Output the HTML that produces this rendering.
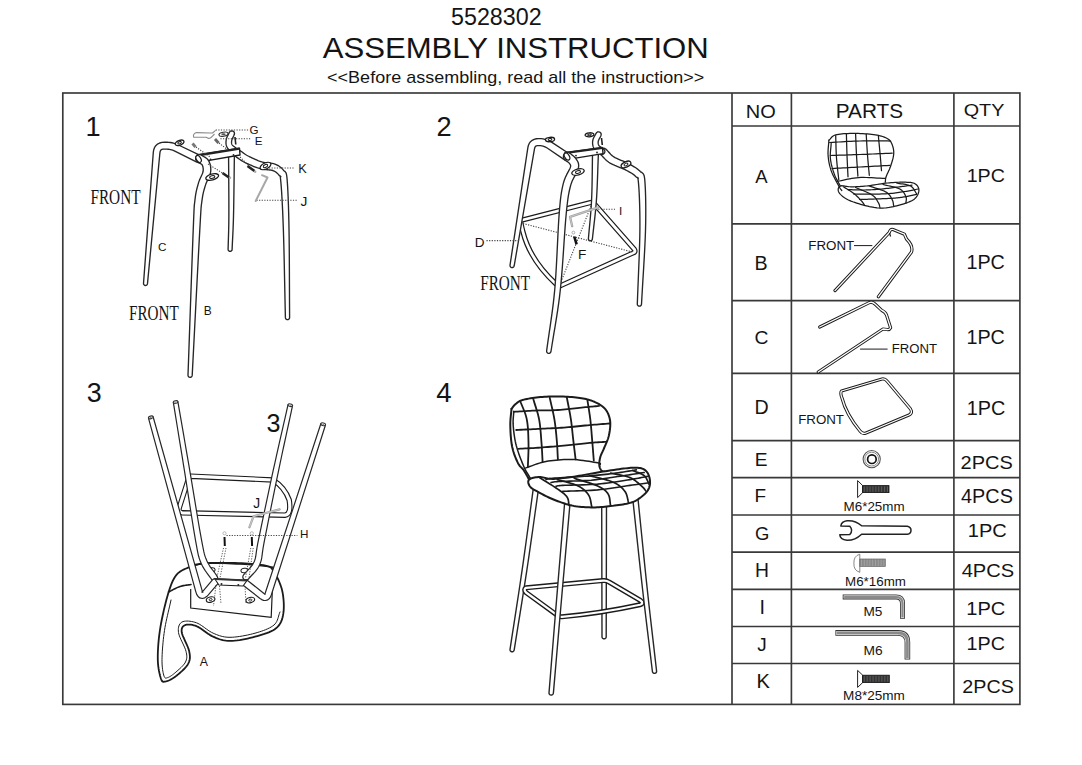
<!DOCTYPE html>
<html><head><meta charset="utf-8">
<style>
html,body{margin:0;padding:0;background:#fff;}
body{width:1082px;height:765px;overflow:hidden;position:relative;}
svg{position:absolute;left:0;top:0;}
</style></head><body>
<svg width="1082" height="765" viewBox="0 0 1082 765">
<g stroke="#393939" stroke-width="1.65" fill="none">
<rect x="62.8" y="93" width="957.1" height="611.4"/>
<line x1="732" y1="93" x2="732" y2="704.4"/>
<line x1="791.4" y1="93" x2="791.4" y2="704.4"/>
<line x1="953.9" y1="93" x2="953.9" y2="704.4"/>
<line x1="732" y1="126.0" x2="1020" y2="126.0"/>
<line x1="732" y1="223.8" x2="1020" y2="223.8"/>
<line x1="732" y1="300.6" x2="1020" y2="300.6"/>
<line x1="732" y1="373.4" x2="1020" y2="373.4"/>
<line x1="732" y1="440.6" x2="1020" y2="440.6"/>
<line x1="732" y1="477.6" x2="1020" y2="477.6"/>
<line x1="732" y1="515.0" x2="1020" y2="515.0"/>
<line x1="732" y1="552.1" x2="1020" y2="552.1"/>
<line x1="732" y1="589.3" x2="1020" y2="589.3"/>
<line x1="732" y1="626.5" x2="1020" y2="626.5"/>
<line x1="732" y1="663.5" x2="1020" y2="663.5"/>
</g>
<g fill="none" stroke="#1b1b1b" stroke-width="1.25" stroke-linecap="round" stroke-linejoin="round">
<path d="M828.9,140.2 L829.53,139.65 L830.08,139.08 L830.58,138.49 L831.07,137.9 L831.58,137.31 L832.15,136.75 L832.81,136.21 L833.6,135.72 L834.55,135.28 L835.7,134.9 L837.05,134.58 L838.57,134.31 L840.25,134.08 L842.04,133.88 L843.94,133.72 L845.9,133.6 L847.92,133.51 L849.96,133.45 L851.99,133.41 L854,133.4 L856.06,133.42 L858.23,133.47 L860.48,133.56 L862.78,133.67 L865.08,133.82 L867.35,133.99 L869.56,134.19 L871.66,134.4 L873.62,134.64 L875.4,134.9 L877.03,135.18 L878.55,135.48 L879.98,135.8 L881.31,136.14 L882.55,136.51 L883.71,136.9 L884.79,137.32 L885.79,137.76 L886.73,138.22 L887.6,138.7 L888.38,139.2 L889.06,139.72 L889.64,140.26 L890.14,140.83 L890.57,141.41 L890.95,142.03 L891.29,142.67 L891.6,143.34 L891.9,144.05 L892.2,144.8 L892.5,145.58 L892.77,146.39 L893.02,147.24 L893.24,148.11 L893.43,149.02 L893.58,149.96 L893.69,150.92 L893.74,151.92 L893.75,152.94 L893.7,154 L893.58,155.11 L893.4,156.27 L893.15,157.49 L892.86,158.74 L892.53,160.01 L892.16,161.29 L891.78,162.56 L891.38,163.81 L890.99,165.03 L890.6,166.2 L890.19,167.35 L889.73,168.51 L889.24,169.66 L888.72,170.8 L888.21,171.92 L887.7,173.01 L887.22,174.05 L886.79,175.04 L886.41,175.96 L886.1,176.8 L885.87,177.55 L885.7,178.21 L885.59,178.8 L885.51,179.33 L885.47,179.83 L885.44,180.29 L885.42,180.74 L885.4,181.2 L885.36,181.68 L885.3,182.2"/>
<path d="M828.9,140.2 L828.8,141.73 L828.68,143.26 L828.54,144.79 L828.39,146.32 L828.26,147.86 L828.14,149.39 L828.05,150.92 L828.01,152.45 L828.02,153.97 L828.1,155.5 L828.23,157.02 L828.4,158.54 L828.6,160.06 L828.84,161.58 L829.13,163.1 L829.45,164.62 L829.82,166.14 L830.23,167.66 L830.69,169.18 L831.2,170.7 L831.8,172.27 L832.51,173.92 L833.29,175.62 L834.14,177.33 L835.01,179.01 L835.88,180.65 L836.72,182.19 L837.5,183.62 L838.21,184.9 L838.8,186 L839.29,186.89 L839.69,187.6 L840.04,188.17 L840.33,188.61 L840.59,188.97 L840.82,189.27 L841.04,189.56 L841.27,189.85 L841.52,190.19 L841.8,190.6"/>
<path d="M831.2,143.3 L831.1,144.82 L830.97,146.34 L830.82,147.86 L830.66,149.38 L830.51,150.89 L830.39,152.41 L830.3,153.93 L830.27,155.45 L830.29,156.98 L830.4,158.5 L830.58,160.04 L830.83,161.6 L831.13,163.18 L831.48,164.76 L831.87,166.34 L832.29,167.9 L832.75,169.43 L833.22,170.94 L833.71,172.4 L834.2,173.8 L834.72,175.15 L835.27,176.44 L835.86,177.69 L836.47,178.9 L837.11,180.09 L837.75,181.27 L838.4,182.44 L839.04,183.61 L839.68,184.79 L840.3,186"/>
<path d="M829.6,142.5 L832.64,142.34 L835.68,142.18 L838.71,142 L841.75,141.83 L844.79,141.66 L847.83,141.49 L850.87,141.34 L853.91,141.2 L856.95,141.09 L860,141 L863.05,140.94 L866.11,140.9 L869.17,140.89 L872.23,140.89 L875.29,140.91 L878.35,140.93 L881.41,140.95 L884.48,140.98 L887.54,140.99 L890.6,141"/>
<path d="M830.4,155.5 L833.35,155.4 L836.28,155.3 L839.2,155.21 L842.12,155.11 L845.04,155.02 L847.97,154.92 L850.93,154.82 L853.91,154.72 L856.93,154.61 L860,154.5 L863.11,154.38 L866.27,154.26 L869.47,154.13 L872.69,154 L875.94,153.87 L879.2,153.73 L882.46,153.6 L885.72,153.46 L888.97,153.33 L892.2,153.2"/>
<path d="M832,168.5 L834.79,168.35 L837.57,168.2 L840.34,168.05 L843.11,167.9 L845.88,167.76 L848.66,167.61 L851.46,167.46 L854.28,167.31 L857.12,167.15 L860,167 L862.91,166.84 L865.86,166.69 L868.83,166.53 L871.82,166.37 L874.83,166.21 L877.85,166.04 L880.87,165.88 L883.89,165.72 L886.9,165.56 L889.9,165.4"/>
<path d="M835.7,135.7 L835.77,137.93 L835.84,140.17 L835.89,142.4 L835.95,144.64 L836.01,146.87 L836.07,149.11 L836.15,151.34 L836.24,153.57 L836.36,155.79 L836.5,158 L836.67,160.21 L836.86,162.41 L837.08,164.6 L837.31,166.79 L837.56,168.98 L837.81,171.16 L838.06,173.34 L838.32,175.53 L838.56,177.71 L838.8,179.9"/>
<path d="M846.4,134.1 L846.46,136.19 L846.51,138.27 L846.57,140.34 L846.62,142.42 L846.68,144.49 L846.73,146.58 L846.79,148.66 L846.85,150.76 L846.92,152.87 L847,155 L847.08,157.14 L847.17,159.3 L847.27,161.47 L847.37,163.66 L847.48,165.84 L847.58,168.04 L847.69,170.23 L847.79,172.43 L847.9,174.62 L848,176.8"/>
<path d="M855.6,133.8 L855.69,135.92 L855.77,138.04 L855.85,140.16 L855.94,142.28 L856.02,144.41 L856.1,146.53 L856.19,148.65 L856.29,150.77 L856.39,152.88 L856.5,155 L856.62,157.11 L856.75,159.23 L856.88,161.34 L857.02,163.45 L857.17,165.56 L857.32,167.66 L857.46,169.77 L857.61,171.88 L857.76,173.99 L857.9,176.1"/>
<path d="M866.2,134.1 L866.33,136.19 L866.45,138.29 L866.57,140.39 L866.7,142.49 L866.82,144.59 L866.94,146.68 L867.07,148.77 L867.21,150.86 L867.35,152.93 L867.5,155 L867.66,157.05 L867.83,159.1 L868,161.13 L868.18,163.16 L868.37,165.19 L868.56,167.21 L868.74,169.23 L868.93,171.25 L869.12,173.27 L869.3,175.3"/>
<path d="M878.4,136.4 L878.56,138.06 L878.72,139.7 L878.88,141.35 L879.04,142.99 L879.21,144.63 L879.37,146.28 L879.53,147.94 L879.69,149.61 L879.84,151.3 L880,153 L880.15,154.73 L880.31,156.47 L880.46,158.23 L880.61,160 L880.76,161.78 L880.9,163.57 L881.05,165.36 L881.2,167.14 L881.35,168.93 L881.5,170.7"/>
<path d="M837.3,181.4 L839.41,181 L841.47,180.57 L843.52,180.12 L845.56,179.66 L847.61,179.21 L849.69,178.79 L851.81,178.4 L853.99,178.07 L856.25,177.79 L858.6,177.6 L861.05,177.49 L863.59,177.47 L866.21,177.5 L868.89,177.59 L871.61,177.71 L874.36,177.86 L877.12,178.02 L879.87,178.17 L882.61,178.3 L885.3,178.4"/>
<path d="M840.3,186 L839.73,186.32 L839.24,186.75 L838.84,187.28 L838.53,187.87 L838.31,188.52 L838.2,189.22 L838.18,189.94 L838.27,190.67 L838.48,191.4 L838.8,192.1 L839.24,192.81 L839.79,193.55 L840.46,194.32 L841.24,195.1 L842.11,195.9 L843.09,196.7 L844.16,197.48 L845.32,198.25 L846.57,198.99 L847.9,199.7 L849.37,200.39 L851.02,201.08 L852.81,201.76 L854.7,202.43 L856.66,203.08 L858.65,203.71 L860.64,204.3 L862.58,204.85 L864.45,205.35 L866.2,205.8 L867.85,206.2 L869.45,206.58 L871.01,206.91 L872.54,207.21 L874.04,207.48 L875.53,207.69 L877.01,207.87 L878.49,208 L879.99,208.07 L881.5,208.1 L883.02,208.07 L884.52,208 L886.02,207.87 L887.51,207.69 L889.01,207.47 L890.51,207.21 L892.03,206.91 L893.56,206.58 L895.12,206.2 L896.7,205.8 L898.37,205.36 L900.14,204.87 L901.98,204.34 L903.85,203.78 L905.71,203.18 L907.52,202.54 L909.25,201.87 L910.84,201.17 L912.27,200.45 L913.5,199.7 L914.54,198.9 L915.46,198.04 L916.25,197.12 L916.93,196.17 L917.49,195.2 L917.96,194.23 L918.32,193.26 L918.6,192.33 L918.79,191.43 L918.9,190.6 L918.92,189.8 L918.82,188.99 L918.62,188.2 L918.33,187.42 L917.95,186.68 L917.49,185.97 L916.96,185.3 L916.36,184.7 L915.7,184.16 L915,183.7 L914.24,183.32 L913.41,183.02 L912.51,182.78 L911.54,182.6 L910.51,182.47 L909.41,182.38 L908.25,182.31 L907.02,182.27 L905.74,182.23 L904.4,182.2 L902.99,182.18 L901.51,182.18 L899.96,182.2 L898.35,182.25 L896.67,182.32 L894.95,182.41 L893.17,182.53 L891.35,182.66 L889.49,182.82 L887.6,183 L885.62,183.22 L883.52,183.49 L881.32,183.81 L879.07,184.15 L876.8,184.5 L874.53,184.85 L872.31,185.19 L870.16,185.51 L868.11,185.78 L866.2,186 L864.41,186.18 L862.69,186.33 L861.04,186.45 L859.46,186.56 L857.93,186.64 L856.46,186.7 L855.03,186.75 L853.65,186.78 L852.31,186.79 L851,186.8 L849.71,186.75 L848.42,186.63 L847.17,186.46 L845.95,186.26 L844.79,186.07 L843.7,185.9 L842.69,185.78 L841.78,185.74 L840.98,185.81Z"/>
<path d="M843.4,186.8 L844.47,187.48 L845.57,188.15 L846.67,188.81 L847.78,189.48 L848.88,190.15 L849.97,190.82 L851.03,191.5 L852.07,192.19 L853.06,192.89 L854,193.6 L854.91,194.34 L855.8,195.12 L856.67,195.93 L857.51,196.74 L858.33,197.56 L859.1,198.36 L859.83,199.14 L860.51,199.88 L861.13,200.57 L861.7,201.2 L862.19,201.76 L862.6,202.27 L862.95,202.73 L863.24,203.16 L863.49,203.56 L863.73,203.94 L863.95,204.31 L864.18,204.69 L864.42,205.08 L864.7,205.5"/>
<path d="M855.6,187.5 L857.32,188.26 L859.11,189.02 L860.94,189.78 L862.79,190.54 L864.61,191.29 L866.38,192.05 L868.07,192.81 L869.64,193.57 L871.06,194.34 L872.3,195.1 L873.36,195.88 L874.27,196.68 L875.05,197.49 L875.72,198.31 L876.29,199.13 L876.79,199.92 L877.23,200.7 L877.64,201.44 L878.02,202.15 L878.4,202.8 L878.74,203.4 L879.01,203.95 L879.21,204.45 L879.36,204.93 L879.48,205.38 L879.58,205.82 L879.66,206.25 L879.75,206.69 L879.86,207.13 L880,207.6"/>
<path d="M869.3,186 L871.03,186.6 L872.83,187.2 L874.68,187.78 L876.53,188.37 L878.37,188.96 L880.15,189.55 L881.85,190.16 L883.42,190.78 L884.85,191.43 L886.1,192.1 L887.16,192.81 L888.08,193.54 L888.86,194.31 L889.53,195.09 L890.11,195.89 L890.6,196.68 L891.05,197.47 L891.45,198.24 L891.82,198.99 L892.2,199.7 L892.54,200.38 L892.79,201.04 L892.99,201.69 L893.13,202.31 L893.24,202.93 L893.32,203.54 L893.39,204.15 L893.47,204.76 L893.57,205.38 L893.7,206"/>
<path d="M883,184.5 L884.73,184.94 L886.53,185.35 L888.38,185.75 L890.23,186.15 L892.07,186.55 L893.85,186.97 L895.55,187.41 L897.12,187.9 L898.55,188.42 L899.8,189 L900.87,189.65 L901.8,190.35 L902.61,191.11 L903.3,191.91 L903.9,192.72 L904.41,193.55 L904.86,194.38 L905.24,195.19 L905.59,195.96 L905.9,196.7 L906.15,197.4 L906.29,198.08 L906.35,198.74 L906.34,199.39 L906.28,200.02 L906.19,200.66 L906.09,201.29 L906,201.92 L905.93,202.56 L905.9,203.2"/>
<path d="M896.7,183 L898.11,183.28 L899.58,183.53 L901.08,183.76 L902.59,183.98 L904.08,184.21 L905.53,184.47 L906.93,184.76 L908.23,185.11 L909.43,185.51 L910.5,186 L911.42,186.57 L912.21,187.23 L912.9,187.94 L913.49,188.71 L914.03,189.51 L914.53,190.34 L915.01,191.18 L915.5,192.01 L916.02,192.82 L916.6,193.6"/>
<path d="M848,189.6 L849.7,189.65 L851.41,189.7 L853.12,189.76 L854.82,189.83 L856.53,189.89 L858.24,189.94 L859.94,189.98 L861.63,190.01 L863.32,190.02 L865,190 L866.67,189.96 L868.33,189.91 L869.99,189.83 L871.64,189.75 L873.28,189.65 L874.92,189.54 L876.57,189.42 L878.21,189.29 L879.85,189.15 L881.5,189 L883.16,188.84 L884.84,188.66 L886.53,188.47 L888.22,188.26 L889.91,188.05 L891.58,187.83 L893.23,187.62 L894.86,187.4 L896.45,187.2 L898,187 L899.5,186.81 L900.96,186.63 L902.38,186.45 L903.78,186.27 L905.16,186.09 L906.52,185.91 L907.88,185.73 L909.24,185.56 L910.61,185.38 L912,185.2"/>
<path d="M853.5,194 L855.14,194.02 L856.76,194.05 L858.37,194.09 L859.98,194.12 L861.59,194.15 L863.21,194.18 L864.86,194.2 L866.53,194.21 L868.24,194.21 L870,194.2 L871.82,194.18 L873.7,194.16 L875.64,194.13 L877.61,194.09 L879.59,194.04 L881.57,193.99 L883.52,193.92 L885.44,193.83 L887.31,193.72 L889.1,193.6 L890.83,193.45 L892.53,193.28 L894.19,193.09 L895.82,192.89 L897.42,192.67 L899,192.44 L900.54,192.21 L902.05,191.97 L903.54,191.73 L905,191.5 L906.42,191.27 L907.8,191.03 L909.14,190.78 L910.44,190.53 L911.72,190.28 L912.99,190.02 L914.26,189.76 L915.52,189.51 L916.8,189.25 L918.1,189"/>
<path d="M859.5,199.5 L861.04,199.45 L862.55,199.4 L864.05,199.36 L865.55,199.31 L867.05,199.27 L868.57,199.22 L870.11,199.17 L871.7,199.12 L873.32,199.06 L875,199 L876.77,198.93 L878.65,198.87 L880.61,198.8 L882.6,198.73 L884.61,198.66 L886.6,198.58 L888.53,198.49 L890.38,198.4 L892.12,198.31 L893.7,198.2 L895.13,198.09 L896.43,197.97 L897.62,197.86 L898.74,197.73 L899.79,197.6 L900.81,197.46 L901.82,197.31 L902.84,197.15 L903.89,196.98 L905,196.8 L906.15,196.6 L907.3,196.38 L908.46,196.15 L909.62,195.91 L910.78,195.66 L911.95,195.41 L913.11,195.15 L914.28,194.9 L915.44,194.64 L916.6,194.4"/>
</g>
<path d="M835,290.6 L889.1,232.7 Q890.6,228.5 893,229.5 L904.4,234.2 L906.5,239 Q913.5,246 911.5,252 L878.4,296.7" fill="none" stroke="#1b1b1b" stroke-width="3.2" stroke-linecap="round" stroke-linejoin="round"/>
<path d="M835,290.6 L889.1,232.7 Q890.6,228.5 893,229.5 L904.4,234.2 L906.5,239 Q913.5,246 911.5,252 L878.4,296.7" fill="none" stroke="#fff" stroke-width="1.3" stroke-linecap="round" stroke-linejoin="round"/>
<path d="M854,245.6 L872.3,245.6" stroke="#1b1b1b" stroke-width="1"/>
<path d="M889.5,233 L890.6,236.5" stroke="#1b1b1b" stroke-width="1.2"/>
<path d="M819.7,327 L869.3,302.6 Q872.5,301.5 875,304 L881.5,310.2 Q885.5,312 886.5,315 L890.6,327.7 Q889.5,330 887,329.5 L883,329 L818.2,372" fill="none" stroke="#1b1b1b" stroke-width="3.2" stroke-linecap="round" stroke-linejoin="round"/>
<path d="M819.7,327 L869.3,302.6 Q872.5,301.5 875,304 L881.5,310.2 Q885.5,312 886.5,315 L890.6,327.7 Q889.5,330 887,329.5 L883,329 L818.2,372" fill="none" stroke="#fff" stroke-width="1.3" stroke-linecap="round" stroke-linejoin="round"/>
<path d="M860.1,349.1 L887.6,349.1" stroke="#1b1b1b" stroke-width="1"/>
<path d="M841.5,391 L882,379 Q885,378.5 887,381 L910.5,409 Q913,413 909,415 L866,433 Q862.5,434.5 860,431 Q846,414 842,398 Q840,393 841.5,391 Z" fill="none" stroke="#1b1b1b" stroke-width="3.2" stroke-linejoin="round"/>
<path d="M841.5,391 L882,379 Q885,378.5 887,381 L910.5,409 Q913,413 909,415 L866,433 Q862.5,434.5 860,431 Q846,414 842,398 Q840,393 841.5,391 Z" fill="none" stroke="#fff" stroke-width="1.3" stroke-linejoin="round"/>
<circle cx="871.7" cy="459.1" r="8.6" fill="none" stroke="#555" stroke-width="1.1"/>
<circle cx="871.7" cy="459.1" r="6.9" fill="none" stroke="#8a8a8a" stroke-width="1.0"/>
<circle cx="871.9" cy="459.2" r="4.3" fill="none" stroke="#111" stroke-width="1.7"/>
<path d="M857.6,480.6 L862.7,485.6 L862.7,492.6 L857.6,497.6 Z" fill="#fff" stroke="#222" stroke-width="1"/><rect x="862.7" y="485.6" width="26.299999999999955" height="7.0" fill="#333" stroke="#111" stroke-width="0.8"/><line x1="864.2" y1="486.40000000000003" x2="864.2" y2="491.8" stroke="#888" stroke-width="0.5"/><line x1="867.11" y1="486.40000000000003" x2="867.11" y2="491.8" stroke="#888" stroke-width="0.5"/><line x1="870.03" y1="486.40000000000003" x2="870.03" y2="491.8" stroke="#888" stroke-width="0.5"/><line x1="872.94" y1="486.40000000000003" x2="872.94" y2="491.8" stroke="#888" stroke-width="0.5"/><line x1="875.85" y1="486.40000000000003" x2="875.85" y2="491.8" stroke="#888" stroke-width="0.5"/><line x1="878.76" y1="486.40000000000003" x2="878.76" y2="491.8" stroke="#888" stroke-width="0.5"/><line x1="881.67" y1="486.40000000000003" x2="881.67" y2="491.8" stroke="#888" stroke-width="0.5"/><line x1="884.59" y1="486.40000000000003" x2="884.59" y2="491.8" stroke="#888" stroke-width="0.5"/><line x1="887.5" y1="486.40000000000003" x2="887.5" y2="491.8" stroke="#888" stroke-width="0.5"/>
<path d="M857.6,670.4 L862.7,675.1999999999999 L862.7,682.6 L857.6,687.4 Z" fill="#fff" stroke="#222" stroke-width="1"/><rect x="862.7" y="675.1999999999999" width="26.59999999999991" height="7.4" fill="#333" stroke="#111" stroke-width="0.8"/><line x1="864.2" y1="675.9999999999999" x2="864.2" y2="681.8000000000001" stroke="#888" stroke-width="0.5"/><line x1="867.15" y1="675.9999999999999" x2="867.15" y2="681.8000000000001" stroke="#888" stroke-width="0.5"/><line x1="870.1" y1="675.9999999999999" x2="870.1" y2="681.8000000000001" stroke="#888" stroke-width="0.5"/><line x1="873.05" y1="675.9999999999999" x2="873.05" y2="681.8000000000001" stroke="#888" stroke-width="0.5"/><line x1="876" y1="675.9999999999999" x2="876" y2="681.8000000000001" stroke="#888" stroke-width="0.5"/><line x1="878.95" y1="675.9999999999999" x2="878.95" y2="681.8000000000001" stroke="#888" stroke-width="0.5"/><line x1="881.9" y1="675.9999999999999" x2="881.9" y2="681.8000000000001" stroke="#888" stroke-width="0.5"/><line x1="884.85" y1="675.9999999999999" x2="884.85" y2="681.8000000000001" stroke="#888" stroke-width="0.5"/><line x1="887.8" y1="675.9999999999999" x2="887.8" y2="681.8000000000001" stroke="#888" stroke-width="0.5"/>
<path d="M839.8,534.8 L849.8,534.6 Q853.5,530.4 849.8,526.2 L840.8,526 Q841.5,521.5 847,520.8 Q855,520 861.6,525.8 L907.4,526.2 Q911,527 911,530.2 Q911,533.8 907.4,534.2 L861.6,534.2 Q855,540.5 847,540.3 Q840,539.5 839.8,534.8 Z" fill="#fff" stroke="#222" stroke-width="1.5" stroke-linejoin="round"/>
<path d="M859.8,554.2 Q853.5,556 853.9,563.2 Q853.5,570.5 859.8,572.3 Z" fill="#fff" stroke="#777" stroke-width="0.9"/>
<rect x="859.8" y="559" width="25.5" height="7.4" fill="#8a8a8a" stroke="#666" stroke-width="0.7"/>
<line x1="861.5" y1="559.5" x2="861.5" y2="566" stroke="#bbb" stroke-width="0.5"/>
<line x1="864.3" y1="559.5" x2="864.3" y2="566" stroke="#bbb" stroke-width="0.5"/>
<line x1="867.1" y1="559.5" x2="867.1" y2="566" stroke="#bbb" stroke-width="0.5"/>
<line x1="869.9" y1="559.5" x2="869.9" y2="566" stroke="#bbb" stroke-width="0.5"/>
<line x1="872.7" y1="559.5" x2="872.7" y2="566" stroke="#bbb" stroke-width="0.5"/>
<line x1="875.5" y1="559.5" x2="875.5" y2="566" stroke="#bbb" stroke-width="0.5"/>
<line x1="878.3" y1="559.5" x2="878.3" y2="566" stroke="#bbb" stroke-width="0.5"/>
<line x1="881.1" y1="559.5" x2="881.1" y2="566" stroke="#bbb" stroke-width="0.5"/>
<line x1="883.9" y1="559.5" x2="883.9" y2="566" stroke="#bbb" stroke-width="0.5"/>
<path d="M845.2,596.9 L896.0,596.9 Q902.5,596.9 902.5,603.4 L902.5,616.2" fill="none" stroke="#333" stroke-width="5.0" stroke-linecap="square"/><path d="M845.2,596.9 L896.0,596.9 Q902.5,596.9 902.5,603.4 L902.5,616.2" fill="none" stroke="#d8d8d8" stroke-width="3.4" stroke-linecap="square"/><path d="M845.2,596.9 L896.0,596.9 Q902.5,596.9 902.5,603.4 L902.5,616.2" fill="none" stroke="#8a8a8a" stroke-width="2.0" stroke-linecap="square"/>
<path d="M838.2,632.9 L897.9,632.9 Q907.4,632.9 907.4,642.4 L907.4,656.8" fill="none" stroke="#333" stroke-width="5.6" stroke-linecap="square"/><path d="M838.2,632.9 L897.9,632.9 Q907.4,632.9 907.4,642.4 L907.4,656.8" fill="none" stroke="#d8d8d8" stroke-width="3.9999999999999996" stroke-linecap="square"/><path d="M838.2,632.9 L897.9,632.9 Q907.4,632.9 907.4,642.4 L907.4,656.8" fill="none" stroke="#8a8a8a" stroke-width="2.5999999999999996" stroke-linecap="square"/>
<path d="M228.55,149.99 L228.59,156.63 L228.63,163.48 L228.68,170.46 L228.73,177.46 L228.78,184.4 L228.82,191.19 L228.86,197.74 L228.88,203.94 L228.88,209.72 L228.87,214.97 L228.84,219.64 L228.79,223.78 L228.72,227.5 L228.64,230.89 L228.56,234.03 L228.46,237.02 L228.37,239.96 L228.27,242.93 L228.18,246.02 L228.1,249.33 L228.23,250.1 L228.64,250.76 L229.27,251.22 L230.03,251.4 L230.8,251.27 L231.46,250.86 L231.92,250.23 L232.1,249.47 L232.24,246.17 L232.39,243.09 L232.54,240.13 L232.69,237.2 L232.84,234.2 L232.99,231.04 L233.14,227.64 L233.27,223.89 L233.41,219.72 L233.53,215.03 L233.64,209.76 L233.75,203.98 L233.84,197.76 L233.93,191.21 L234.02,184.42 L234.11,177.48 L234.19,170.47 L234.27,163.5 L234.36,156.65 L234.45,150.01 L234.23,148.88 L233.59,147.92 L232.64,147.28 L231.51,147.05 L230.38,147.27 L229.42,147.91 L228.78,148.86Z" fill="#fff" stroke="#262626" stroke-width="1.35" stroke-linejoin="round" />
<path d="M236.37,157.09 L237.18,157.62 L237.93,158.12 L238.69,158.65 L239.47,159.19 L240.29,159.75 L241.16,160.33 L242.09,160.92 L243.1,161.52 L244.19,162.13 L245.37,162.73 L246.61,163.33 L247.94,163.95 L249.35,164.59 L250.83,165.24 L252.35,165.89 L253.89,166.52 L255.45,167.12 L257,167.69 L258.53,168.2 L260.06,168.66 L261.62,169.04 L263.18,169.31 L264.7,169.5 L266.15,169.64 L267.52,169.75 L268.8,169.84 L269.98,169.96 L271.02,170.09 L271.91,170.27 L272.69,170.49 L273.45,170.79 L274.2,171.13 L274.89,171.49 L275.53,171.88 L276.12,172.28 L276.68,172.71 L277.19,173.17 L277.67,173.64 L278.12,174.15 L278.66,174.81 L279.39,175.62 L280.29,176.3 L280.83,176.59 L280.6,176.41 L280.13,175.85 L280.02,175.63 L280.13,176.06 L280.32,177.13 L280.53,178.84 L280.78,181.28 L281.05,184.32 L281.32,187.78 L281.6,191.67 L281.86,195.97 L282.13,200.68 L282.39,205.79 L282.65,211.29 L282.9,217.17 L283.14,223.44 L283.38,230.07 L283.6,237.26 L283.82,245.1 L284.03,253.48 L284.23,262.3 L284.42,271.42 L284.62,280.74 L284.81,290.13 L285,299.49 L285.2,308.7 L285.4,317.63 L285.57,318.43 L286.04,319.11 L286.72,319.55 L287.53,319.7 L288.33,319.53 L289.01,319.06 L289.45,318.38 L289.6,317.57 L289.55,308.64 L289.5,299.43 L289.47,290.08 L289.43,280.68 L289.39,271.36 L289.34,262.23 L289.29,253.4 L289.22,245 L289.13,237.14 L289.02,229.93 L288.9,223.27 L288.76,216.98 L288.6,211.07 L288.44,205.54 L288.26,200.4 L288.07,195.66 L287.87,191.31 L287.66,187.37 L287.44,183.84 L287.22,180.72 L287,178.17 L286.79,176.25 L286.56,174.8 L286.27,173.59 L285.72,172.4 L284.76,171.31 L283.97,170.8 L283.84,170.75 L283.95,170.84 L283.74,170.59 L283.22,169.91 L282.53,169.12 L281.79,168.35 L280.98,167.62 L280.13,166.93 L279.21,166.28 L278.23,165.67 L277.2,165.1 L276.11,164.59 L274.91,164.11 L273.58,163.69 L272.19,163.39 L270.81,163.18 L269.45,163.03 L268.1,162.9 L266.79,162.78 L265.5,162.64 L264.26,162.46 L263.09,162.24 L261.94,161.94 L260.72,161.54 L259.38,161.07 L257.98,160.54 L256.56,159.96 L255.13,159.35 L253.71,158.72 L252.33,158.08 L251.01,157.45 L249.76,156.84 L248.63,156.27 L247.65,155.75 L246.77,155.24 L245.95,154.74 L245.18,154.23 L244.44,153.71 L243.69,153.18 L242.93,152.64 L242.13,152.07 L241.29,151.48 L240.43,150.91 L239.09,150.37 L237.65,150.38 L236.32,150.94 L235.31,151.97 L234.77,153.31 L234.78,154.75 L235.34,156.08Z" fill="#fff" stroke="#262626" stroke-width="1.35" stroke-linejoin="round" />
<path d="M147.49,283.67 L159.89,153.01 L160.13,151.63 L160.49,150.67 L160.89,150.07 L161.36,149.66 L162.02,149.35 L163,149.13 L164.49,149.08 L167.02,149.16 L168.23,149.23 L169.37,149.37 L170.5,149.59 L171.6,149.87 L172.68,150.22 L173.75,150.64 L174.81,151.14 L196.83,162.21 L198.26,162.59 L199.73,162.4 L201.01,161.65 L201.91,160.47 L202.29,159.04 L202.1,157.57 L201.35,156.29 L200.17,155.39 L177.93,144.75 L176.48,144.11 L174.99,143.55 L173.47,143.1 L171.93,142.74 L170.37,142.48 L168.79,142.31 L167.24,142.25 L164.41,142.22 L162.03,142.38 L159.68,142.98 L157.55,144.09 L155.77,145.71 L154.47,147.73 L153.67,150 L153.29,152.44 L143.51,283.33 L143.59,284.11 L143.97,284.79 L144.58,285.28 L145.33,285.49 L146.11,285.41 L146.79,285.03 L147.28,284.42Z" fill="#fff" stroke="#262626" stroke-width="1.35" stroke-linejoin="round" />
<path d="M229.34,132.39 L229.05,133 L228.75,133.6 L228.43,134.23 L228.08,134.89 L227.73,135.58 L227.38,136.29 L227.05,137.04 L226.74,137.82 L226.48,138.65 L226.28,139.48 L226.15,140.24 L226.06,140.98 L226,141.73 L225.97,142.5 L226,143.29 L226.08,144.1 L226.22,144.91 L226.44,145.73 L226.73,146.55 L227.13,147.38 L227.65,148.21 L228.25,148.96 L228.89,149.62 L229.54,150.22 L230.19,150.78 L230.83,151.3 L231.45,151.8 L232.03,152.26 L232.56,152.71 L233.08,153.17 L234.06,153.74 L235.18,153.89 L236.27,153.6 L237.17,152.92 L237.74,151.94 L237.89,150.82 L237.6,149.73 L236.92,148.83 L236.31,148.3 L235.65,147.77 L235.01,147.27 L234.39,146.79 L233.81,146.35 L233.29,145.92 L232.85,145.53 L232.49,145.17 L232.24,144.87 L232.07,144.62 L231.93,144.33 L231.8,144.01 L231.7,143.67 L231.63,143.3 L231.58,142.89 L231.56,142.46 L231.56,142.01 L231.59,141.52 L231.65,141.01 L231.72,140.52 L231.81,140.09 L231.94,139.64 L232.13,139.13 L232.37,138.58 L232.64,137.98 L232.95,137.36 L233.28,136.7 L233.62,136.01 L233.95,135.3 L234.26,134.61 L234.5,133.59 L234.33,132.55 L233.77,131.65 L232.91,131.04 L231.89,130.8 L230.85,130.97 L229.95,131.53Z" fill="#fff" stroke="#262626" stroke-width="1.35" stroke-linejoin="round" />
<path d="M235,137 L235.8,144.5" stroke="#222" stroke-width="1.6"/>
<path d="M197,155.2 L239.5,148.3 L240,155 L202,161.6 Z" fill="#fff" stroke="#1b1b1b" stroke-width="1.4" stroke-linejoin="round"/>
<path d="M198,155.3 L239.5,148.6" stroke="#222" stroke-width="2.4"/>
<circle cx="210.6" cy="159.4" r="0.9" fill="#222"/><circle cx="233.5" cy="154.9" r="0.9" fill="#222"/>
<path d="M197.28,161.71 L198,162.2 L198.81,162.68 L199.55,163.1 L200.22,163.46 L200.8,163.78 L201.27,164.07 L201.63,164.32 L201.87,164.53 L202.02,164.69 L202.16,164.89 L202.35,165.28 L202.57,165.79 L202.77,166.36 L202.93,166.97 L203.07,167.63 L203.17,168.33 L203.22,169.05 L203.23,169.81 L203.18,170.58 L203.1,171.34 L202.94,172.06 L202.69,172.87 L202.33,173.8 L201.88,174.83 L201.35,175.96 L200.77,177.18 L200.17,178.49 L199.57,179.89 L199,181.38 L198.51,182.9 L198.09,184.34 L197.7,185.7 L197.32,187.09 L196.94,188.53 L196.57,190.04 L196.22,191.65 L195.89,193.39 L195.57,195.27 L195.27,197.32 L195,199.55 L194.78,201.46 L194.61,202.79 L194.47,203.91 L194.34,205.13 L194.22,206.67 L194.1,208.82 L193.95,211.9 L193.77,216.23 L193.53,222.11 L193.22,229.84 L192.84,239.71 L192.4,251.54 L191.91,264.98 L191.38,279.69 L190.83,295.32 L190.26,311.53 L189.68,327.97 L189.1,344.29 L188.54,360.15 L188,375.21 L188.13,376.02 L188.55,376.72 L189.21,377.2 L190.01,377.4 L190.82,377.27 L191.52,376.85 L192,376.19 L192.2,375.39 L192.98,360.35 L193.8,344.5 L194.64,328.19 L195.49,311.76 L196.32,295.56 L197.13,279.94 L197.9,265.25 L198.6,251.82 L199.24,240.01 L199.78,230.16 L200.21,222.43 L200.54,216.56 L200.8,212.26 L200.99,209.23 L201.14,207.17 L201.27,205.79 L201.39,204.77 L201.54,203.73 L201.74,202.37 L202,200.45 L202.29,198.31 L202.6,196.41 L202.91,194.7 L203.24,193.15 L203.58,191.71 L203.93,190.35 L204.3,189.04 L204.68,187.74 L205.09,186.41 L205.49,185.1 L205.91,183.87 L206.38,182.7 L206.9,181.53 L207.46,180.36 L208.05,179.17 L208.64,177.96 L209.21,176.71 L209.73,175.42 L210.18,174.06 L210.5,172.66 L210.69,171.33 L210.78,170.06 L210.79,168.82 L210.72,167.61 L210.58,166.43 L210.37,165.29 L210.09,164.19 L209.75,163.14 L209.34,162.13 L208.84,161.11 L208.16,160.05 L207.33,159.09 L206.46,158.32 L205.61,157.68 L204.79,157.16 L204.03,156.71 L203.34,156.32 L202.74,155.97 L202.24,155.66 L201.72,155.29 L200.32,154.69 L198.8,154.66 L197.39,155.22 L196.29,156.28 L195.69,157.68 L195.66,159.2 L196.22,160.61Z" fill="#fff" stroke="#262626" stroke-width="1.35" stroke-linejoin="round" />
<ellipse cx="198.6" cy="159" rx="2.2" ry="3.8" transform="rotate(-30 198.6 159)" fill="#fff" stroke="#1b1b1b" stroke-width="1.2"/>
<g transform="translate(179.6,142.8) rotate(-20)"><ellipse rx="4.6" ry="2.4" fill="#fff" stroke="#1b1b1b" stroke-width="1.3"/><ellipse rx="1.8399999999999999" ry="1.08" fill="#fff" stroke="#1b1b1b" stroke-width="1"/></g>
<g transform="translate(212.2,177) rotate(-15)"><ellipse rx="6.6" ry="3.0" fill="#fff" stroke="#1b1b1b" stroke-width="1.3"/><ellipse rx="2.64" ry="1.35" fill="#fff" stroke="#1b1b1b" stroke-width="1"/></g>
<g transform="translate(265.5,166) rotate(-25)"><ellipse rx="5.8" ry="3.0" fill="#fff" stroke="#1b1b1b" stroke-width="1.3"/><ellipse rx="2.32" ry="1.35" fill="#fff" stroke="#1b1b1b" stroke-width="1"/></g>
<path d="M215.6,130.4 L212.5,133 L210,133 L196.3,132.6 Q192.5,134 193.7,137.2 L206.1,137.2 L208.8,138.5 Q211,138 212,136.6 L214.5,134" fill="none" stroke="#8a8a8a" stroke-width="1.1" stroke-linejoin="round"/>
<ellipse cx="223.5" cy="134.2" rx="4.6" ry="2.0" transform="rotate(-10 223.5 134.2)" fill="#fff" stroke="#333" stroke-width="1.2"/>
<ellipse cx="223.5" cy="134.2" rx="2.2" ry="0.9" fill="#555"/>
<path d="M192.5,143.5 L195.5,147" stroke="#777" stroke-width="2.8" stroke-linecap="butt"/>
<path d="M215,139 L218.5,143" stroke="#666" stroke-width="2.8" stroke-linecap="butt"/>
<path d="M222.5,173 L229,177.5" stroke="#222" stroke-width="2.6" stroke-linecap="butt"/>
<path d="M247.5,166 L254.5,171" stroke="#222" stroke-width="2.6" stroke-linecap="butt"/>
<circle cx="230" cy="177.8" r="1.2" fill="#aaa"/><circle cx="255.2" cy="171.8" r="1.2" fill="#aaa"/>
<path d="M196,147 L210,157" stroke="#444" stroke-width="1.1" stroke-dasharray="1.2 1.4" fill="none"/>
<path d="M219,143 L228,150" stroke="#444" stroke-width="1.1" stroke-dasharray="1.2 1.4" fill="none"/>
<path d="M208,164 L224,174" stroke="#444" stroke-width="1.1" stroke-dasharray="1.2 1.4" fill="none"/>
<path d="M240,157 L249,166" stroke="#444" stroke-width="1.1" stroke-dasharray="1.2 1.4" fill="none"/>
<path d="M215.7,130 L248.6,130" stroke="#444" stroke-width="1.1" stroke-dasharray="1.2 1.4" fill="none"/>
<path d="M220.4,138.7 L251,138.7" stroke="#444" stroke-width="1.1" stroke-dasharray="1.2 1.4" fill="none"/>
<path d="M269,168 L294,168" stroke="#444" stroke-width="1.1" stroke-dasharray="1.2 1.4" fill="none"/>
<path d="M256.5,200.2 L298,200.2" stroke="#444" stroke-width="1.1" stroke-dasharray="1.2 1.4" fill="none"/>
<path d="M262,175.2 L267.5,177.5 L255.7,201" fill="none" stroke="#a8a8a8" stroke-width="2" stroke-linejoin="round" stroke-linecap="round"/><path d="M520.5,220.5 L590.5,202.6 Q593,202 594.5,204 L634.5,249.5 Q636,252 633,253 L561,285.5 Q558,286.5 556,284 Q530,260 523,232 Q521,224 520.5,220.5 Z" fill="none" stroke="#1b1b1b" stroke-width="5.199999999999999" stroke-linejoin="round" stroke-linecap="round"/><path d="M520.5,220.5 L590.5,202.6 Q593,202 594.5,204 L634.5,249.5 Q636,252 633,253 L561,285.5 Q558,286.5 556,284 Q530,260 523,232 Q521,224 520.5,220.5 Z" fill="none" stroke="#fff" stroke-width="2.8" stroke-linejoin="round" stroke-linecap="round"/>
<path d="M523,223.5 L633.5,252.3" stroke="#444" stroke-width="1.1" stroke-dasharray="1.2 1.4" fill="none"/>
<path d="M592,203.5 L560.7,282.7" stroke="#444" stroke-width="1.1" stroke-dasharray="1.2 1.4" fill="none"/>
<path d="M592.55,151.91 L592.46,156.76 L592.39,161.68 L592.33,166.62 L592.27,171.58 L592.2,176.51 L592.12,181.39 L592.03,186.19 L591.91,190.89 L591.76,195.45 L591.58,199.86 L591.35,204.09 L591.09,208.16 L590.79,212.11 L590.47,215.97 L590.14,219.75 L589.79,223.5 L589.43,227.23 L589.08,230.97 L588.74,234.76 L588.41,238.61 L588.49,239.38 L588.86,240.07 L589.46,240.57 L590.21,240.79 L590.98,240.71 L591.67,240.34 L592.17,239.74 L592.39,238.99 L592.8,235.16 L593.23,231.4 L593.66,227.67 L594.09,223.95 L594.53,220.2 L594.95,216.4 L595.36,212.52 L595.74,208.54 L596.1,204.42 L596.42,200.14 L596.71,195.69 L596.96,191.09 L597.18,186.36 L597.38,181.54 L597.56,176.64 L597.74,171.71 L597.9,166.76 L598.08,161.82 L598.26,156.92 L598.45,152.09 L598.26,150.95 L597.65,149.98 L596.71,149.31 L595.59,149.05 L594.45,149.24 L593.48,149.85 L592.81,150.79Z" fill="#fff" stroke="#262626" stroke-width="1.35" stroke-linejoin="round" />
<path d="M600.87,154.67 L601.65,155.43 L602.36,156.15 L603.07,156.93 L603.82,157.74 L604.62,158.6 L605.5,159.49 L606.47,160.4 L607.54,161.31 L608.74,162.21 L610.08,163.09 L611.58,163.93 L613.18,164.72 L614.85,165.46 L616.56,166.17 L618.29,166.86 L619.99,167.53 L621.64,168.18 L623.2,168.83 L624.61,169.45 L625.89,170.08 L627.13,170.73 L628.35,171.39 L629.52,172.04 L630.62,172.67 L631.65,173.29 L632.61,173.91 L633.48,174.52 L634.26,175.12 L634.95,175.7 L635.68,176.42 L636.6,177.24 L637.65,177.89 L638.35,178.2 L638.38,178.19 L637.92,177.78 L637.7,177.42 L637.79,177.67 L637.98,178.61 L638.2,180.22 L638.45,182.57 L638.7,185.57 L638.95,189.07 L639.18,193.02 L639.38,197.38 L639.56,202.11 L639.71,207.18 L639.83,212.53 L639.9,218.14 L639.92,223.95 L639.89,229.95 L639.8,236.26 L639.64,243.03 L639.41,250.18 L639.15,257.62 L638.85,265.28 L638.53,273.07 L638.21,280.92 L637.89,288.75 L637.58,296.47 L637.3,304 L637.42,304.81 L637.85,305.51 L638.51,306 L639.3,306.2 L640.11,306.08 L640.81,305.65 L641.3,304.99 L641.5,304.2 L641.92,296.67 L642.37,288.97 L642.84,281.16 L643.32,273.31 L643.79,265.52 L644.23,257.86 L644.64,250.4 L645,243.23 L645.29,236.42 L645.51,230.05 L645.65,224.01 L645.74,218.14 L645.77,212.49 L645.76,207.08 L645.71,201.96 L645.62,197.17 L645.49,192.75 L645.34,188.72 L645.15,185.14 L644.95,182.03 L644.74,179.51 L644.5,177.59 L644.22,176.07 L643.78,174.74 L642.97,173.44 L641.82,172.48 L641.04,172.1 L640.79,172 L640.71,171.96 L640.32,171.58 L639.55,170.79 L638.57,169.92 L637.54,169.09 L636.45,168.3 L635.32,167.54 L634.15,166.81 L632.95,166.08 L631.71,165.37 L630.44,164.65 L629.11,163.92 L627.63,163.16 L626.02,162.41 L624.35,161.68 L622.66,160.97 L620.96,160.27 L619.31,159.57 L617.74,158.88 L616.29,158.21 L615,157.55 L613.92,156.91 L612.99,156.27 L612.16,155.62 L611.4,154.95 L610.69,154.26 L610,153.53 L609.31,152.75 L608.59,151.94 L607.82,151.08 L606.99,150.18 L606.13,149.33 L604.91,148.52 L603.47,148.25 L602.04,148.55 L600.83,149.37 L600.02,150.59 L599.75,152.03 L600.05,153.46Z" fill="#fff" stroke="#262626" stroke-width="1.35" stroke-linejoin="round" />
<path d="M514.17,265.84 L534.53,148.74 L534.81,147.62 L535.16,146.86 L535.53,146.38 L535.93,146.06 L536.48,145.81 L537.29,145.64 L538.61,145.59 L538.96,145.6 L540.44,145.7 L541.78,145.9 L543.07,146.2 L544.31,146.61 L545.53,147.12 L546.72,147.74 L547.9,148.48 L565.36,160.4 L566.75,160.98 L568.26,160.98 L569.64,160.4 L570.7,159.34 L571.28,157.95 L571.28,156.44 L570.7,155.06 L569.64,154 L551.9,142.44 L550.23,141.45 L548.5,140.59 L546.72,139.89 L544.89,139.34 L543.02,138.94 L541.11,138.7 L539.27,138.61 L538.34,138.61 L536.29,138.76 L534.16,139.3 L532.19,140.28 L530.52,141.7 L529.23,143.47 L528.36,145.48 L527.86,147.65 L510.03,265.16 L510.06,265.98 L510.4,266.73 L511,267.29 L511.76,267.57 L512.58,267.54 L513.33,267.2 L513.89,266.6Z" fill="#fff" stroke="#262626" stroke-width="1.35" stroke-linejoin="round" />
<path d="M596.07,133.32 L595.77,133.93 L595.45,134.52 L595.09,135.15 L594.72,135.81 L594.33,136.5 L593.95,137.22 L593.59,137.98 L593.25,138.79 L592.97,139.65 L592.77,140.52 L592.66,141.35 L592.59,142.14 L592.58,142.94 L592.61,143.74 L592.7,144.55 L592.85,145.36 L593.06,146.16 L593.33,146.95 L593.68,147.73 L594.11,148.52 L594.67,149.3 L595.3,150.01 L595.96,150.62 L596.64,151.17 L597.3,151.67 L597.96,152.14 L598.58,152.57 L599.17,152.98 L599.7,153.37 L600.22,153.79 L601.23,154.3 L602.36,154.38 L603.43,154.02 L604.29,153.28 L604.8,152.27 L604.88,151.14 L604.52,150.07 L603.78,149.21 L603.16,148.74 L602.49,148.26 L601.83,147.82 L601.21,147.41 L600.63,147.01 L600.12,146.64 L599.67,146.3 L599.32,145.98 L599.07,145.72 L598.89,145.48 L598.72,145.19 L598.56,144.85 L598.43,144.49 L598.32,144.11 L598.24,143.7 L598.18,143.27 L598.15,142.83 L598.15,142.37 L598.18,141.91 L598.23,141.48 L598.31,141.09 L598.43,140.68 L598.63,140.19 L598.87,139.65 L599.17,139.06 L599.5,138.44 L599.86,137.78 L600.23,137.1 L600.6,136.38 L600.93,135.68 L601.19,134.66 L601.05,133.62 L600.52,132.71 L599.68,132.07 L598.66,131.81 L597.62,131.95 L596.71,132.48Z" fill="#fff" stroke="#262626" stroke-width="1.35" stroke-linejoin="round" />
<path d="M601.5,138 L602.3,145" stroke="#222" stroke-width="1.6"/>
<g transform="translate(589.5,134.8) rotate(-5)"><ellipse rx="4.4" ry="2.0" fill="#fff" stroke="#1b1b1b" stroke-width="1.3"/><ellipse rx="1.7600000000000002" ry="0.9" fill="#fff" stroke="#1b1b1b" stroke-width="1"/></g>
<path d="M565,152.8 L602.5,147.6 L603,153.6 L572.5,158.6 Z" fill="#fff" stroke="#1b1b1b" stroke-width="1.4" stroke-linejoin="round"/>
<path d="M566,152.9 L602.5,147.9" stroke="#222" stroke-width="2.4"/>
<circle cx="576" cy="155.6" r="0.9" fill="#222"/><circle cx="597" cy="152.5" r="0.9" fill="#222"/>
<path d="M564.81,159.6 L565.44,160.13 L566.13,160.68 L566.79,161.18 L567.41,161.65 L567.97,162.07 L568.46,162.47 L568.87,162.83 L569.19,163.13 L569.4,163.38 L569.62,163.7 L569.95,164.21 L570.29,164.71 L570.51,165.06 L570.62,165.24 L570.65,165.3 L570.67,165.33 L570.69,165.43 L570.69,165.72 L570.63,166.23 L570.49,166.92 L570.23,167.74 L569.8,168.73 L569.19,169.94 L568.43,171.34 L567.58,172.92 L566.67,174.67 L565.74,176.6 L564.85,178.71 L564.02,181 L563.34,183.41 L562.79,185.71 L562.3,187.86 L561.86,190.03 L561.45,192.29 L561.07,194.75 L560.71,197.5 L560.35,200.63 L559.99,204.25 L559.61,208.47 L559.2,213.4 L558.79,219.24 L558.39,225.97 L558,233.41 L557.61,241.37 L557.21,249.67 L556.79,258.12 L556.34,266.54 L555.86,274.74 L555.32,282.53 L554.73,289.72 L554.07,296.42 L553.35,302.87 L552.57,309.11 L551.76,315.2 L550.91,321.17 L550.05,327.07 L549.18,332.95 L548.31,338.85 L547.45,344.81 L546.62,350.88 L546.67,351.74 L547.04,352.51 L547.67,353.09 L548.48,353.38 L549.34,353.33 L550.11,352.96 L550.69,352.33 L550.98,351.52 L551.92,345.48 L552.88,339.56 L553.86,333.68 L554.85,327.82 L555.82,321.92 L556.79,315.94 L557.72,309.83 L558.62,303.54 L559.48,297.04 L560.27,290.28 L561.01,283.01 L561.7,275.17 L562.35,266.94 L562.96,258.5 L563.54,250.04 L564.09,241.75 L564.63,233.81 L565.16,226.41 L565.68,219.75 L566.2,214 L566.69,209.15 L567.15,205 L567.57,201.47 L567.97,198.46 L568.36,195.86 L568.76,193.58 L569.18,191.5 L569.62,189.5 L570.12,187.48 L570.66,185.39 L571.27,183.39 L571.97,181.56 L572.74,179.84 L573.57,178.2 L574.42,176.63 L575.28,175.11 L576.11,173.63 L576.89,172.15 L577.58,170.62 L578.11,169.08 L578.45,167.66 L578.63,166.37 L578.66,165.12 L578.53,163.9 L578.25,162.77 L577.85,161.8 L577.43,161 L577.05,160.38 L576.73,159.88 L576.38,159.3 L575.84,158.5 L575.15,157.67 L574.45,156.95 L573.74,156.31 L573.06,155.74 L572.4,155.21 L571.77,154.72 L571.2,154.27 L570.69,153.85 L570.19,153.4 L568.8,152.61 L567.21,152.41 L565.67,152.83 L564.4,153.81 L563.61,155.2 L563.41,156.79 L563.83,158.33Z" fill="#fff" stroke="#262626" stroke-width="1.35" stroke-linejoin="round" />
<ellipse cx="567" cy="156.5" rx="2.3" ry="3.9" transform="rotate(-30 567 156.5)" fill="#fff" stroke="#1b1b1b" stroke-width="1.2"/>
<g transform="translate(550,139.5) rotate(-5)"><ellipse rx="4.6" ry="2.2" fill="#fff" stroke="#1b1b1b" stroke-width="1.3"/><ellipse rx="1.8399999999999999" ry="0.9900000000000001" fill="#fff" stroke="#1b1b1b" stroke-width="1"/></g>
<g transform="translate(578,172) rotate(-15)"><ellipse rx="6.4" ry="3.0" fill="#fff" stroke="#1b1b1b" stroke-width="1.3"/><ellipse rx="2.5600000000000005" ry="1.35" fill="#fff" stroke="#1b1b1b" stroke-width="1"/></g>
<g transform="translate(626,164.5) rotate(-25)"><ellipse rx="5.2" ry="2.7" fill="#fff" stroke="#1b1b1b" stroke-width="1.3"/><ellipse rx="2.08" ry="1.215" fill="#fff" stroke="#1b1b1b" stroke-width="1"/></g>
<path d="M598.3,207.4 L570,216.8 L572.2,226.2" fill="none" stroke="#a0a0a0" stroke-width="2.3" stroke-linejoin="round" stroke-linecap="round"/>
<path d="M598.3,207.4 L570,216.8 L572.2,226.2" fill="none" stroke="#e0e0e0" stroke-width="0.6"/>
<path d="M598.3,209.2 L615,209.2" stroke="#444" stroke-width="1.1" stroke-dasharray="1.2 1.4" fill="none"/>
<circle cx="573.4" cy="232.6" r="1.4" fill="#fff" stroke="#999" stroke-width="0.8"/>
<path d="M574.3,236.7 L576.6,244.4" stroke="#111" stroke-width="2.6" stroke-linecap="butt"/>
<path d="M486.5,240.6 L518.8,240.6" stroke="#444" stroke-width="1.1" stroke-dasharray="1.2 1.4" fill="none"/><path d="M188.1,567.6 L186.75,568.21 L185.4,568.8 L184.07,569.41 L182.75,570.05 L181.46,570.74 L180.2,571.53 L178.98,572.42 L177.8,573.44 L176.67,574.63 L175.6,576 L174.59,577.53 L173.64,579.2 L172.74,580.98 L171.89,582.9 L171.07,584.94 L170.28,587.1 L169.51,589.39 L168.74,591.8 L167.98,594.34 L167.2,597 L166.4,599.86 L165.59,602.95 L164.77,606.24 L163.95,609.66 L163.16,613.18 L162.39,616.74 L161.67,620.29 L161.01,623.78 L160.41,627.17 L159.9,630.4 L159.46,633.54 L159.06,636.69 L158.72,639.82 L158.44,642.92 L158.2,645.96 L158.02,648.93 L157.88,651.81 L157.8,654.58 L157.78,657.21 L157.8,659.7 L157.89,662.08 L158.07,664.38 L158.31,666.61 L158.61,668.73 L158.96,670.74 L159.33,672.61 L159.73,674.34 L160.13,675.91 L160.52,677.3 L160.9,678.5 L161.25,679.48 L161.57,680.26 L161.88,680.85 L162.2,681.27 L162.54,681.55 L162.91,681.71 L163.34,681.77 L163.84,681.76 L164.42,681.7 L165.1,681.6 L165.89,681.45 L166.76,681.21 L167.72,680.88 L168.75,680.47 L169.83,679.98 L170.95,679.4 L172.1,678.76 L173.27,678.04 L174.44,677.25 L175.6,676.4 L176.82,675.45 L178.15,674.37 L179.56,673.19 L181,671.93 L182.44,670.61 L183.82,669.26 L185.12,667.89 L186.3,666.52 L187.3,665.19 L188.1,663.9 L188.71,662.67 L189.19,661.49 L189.54,660.32 L189.77,659.16 L189.89,657.99 L189.92,656.79 L189.85,655.54 L189.71,654.22 L189.49,652.81 L189.2,651.3 L188.76,649.62 L188.09,647.75 L187.27,645.75 L186.34,643.67 L185.37,641.57 L184.4,639.49 L183.51,637.49 L182.74,635.62 L182.15,633.94 L181.8,632.5 L181.65,631.27 L181.63,630.17 L181.72,629.2 L181.92,628.35 L182.22,627.61 L182.61,626.97 L183.1,626.42 L183.66,625.94 L184.3,625.54 L185,625.2 L185.79,624.92 L186.69,624.72 L187.68,624.59 L188.75,624.55 L189.91,624.59 L191.13,624.72 L192.41,624.94 L193.73,625.26 L195.1,625.68 L196.5,626.2 L197.96,626.89 L199.51,627.79 L201.12,628.85 L202.8,630.02 L204.52,631.25 L206.26,632.5 L208.02,633.71 L209.77,634.85 L211.5,635.86 L213.2,636.7 L214.84,637.41 L216.42,638.08 L217.97,638.69 L219.52,639.24 L221.08,639.72 L222.68,640.13 L224.35,640.46 L226.11,640.7 L227.99,640.85 L230,640.9 L232.19,640.84 L234.54,640.66 L237.02,640.39 L239.6,640.03 L242.24,639.59 L244.89,639.09 L247.54,638.53 L250.12,637.94 L252.63,637.33 L255,636.7 L257.32,636.06 L259.68,635.39 L262.03,634.68 L264.35,633.94 L266.61,633.15 L268.78,632.31 L270.83,631.41 L272.74,630.44 L274.47,629.41 L276,628.3 L277.32,627.13 L278.47,625.91 L279.46,624.64 L280.31,623.31 L281.03,621.91 L281.64,620.44 L282.16,618.89 L282.6,617.26 L282.97,615.53 L283.3,613.7 L283.56,611.72 L283.73,609.57 L283.81,607.29 L283.81,604.91 L283.73,602.47 L283.56,600.01 L283.32,597.56 L283.02,595.17 L282.64,592.87 L282.2,590.7 L281.66,588.59 L281,586.45 L280.24,584.33 L279.4,582.24 L278.51,580.2 L277.57,578.25 L276.62,576.41 L275.68,574.7 L274.77,573.16 L273.9,571.8 L273.16,570.65 L272.58,569.69 L272.08,568.89 L271.61,568.23 L271.09,567.68 L270.46,567.21 L269.65,566.8 L268.6,566.41 L267.24,566.02 L265.5,565.6 L263.35,565.18 L260.84,564.8 L258.03,564.46 L254.98,564.15 L251.74,563.88 L248.39,563.64 L244.98,563.44 L241.57,563.26 L238.22,563.12 L235,563 L231.76,562.91 L228.37,562.84 L224.88,562.81 L221.36,562.8 L217.86,562.83 L214.43,562.89 L211.15,562.99 L208.06,563.12 L205.22,563.29 L202.7,563.5 L200.51,563.74 L198.61,564.02 L196.95,564.33 L195.48,564.67 L194.16,565.06 L192.94,565.48 L191.77,565.94 L190.6,566.45 L189.4,567Z" fill="#fff" stroke="#1b1b1b" stroke-width="1.8" stroke-linecap="round" stroke-linejoin="round"/>
<path d="M171,600 L170.33,603.04 L169.64,606.1 L168.92,609.15 L168.21,612.21 L167.5,615.27 L166.81,618.32 L166.16,621.36 L165.54,624.39 L164.99,627.4 L164.5,630.4 L164.07,633.43 L163.67,636.54 L163.31,639.68 L163,642.82 L162.72,645.93 L162.48,648.97 L162.29,651.9 L162.15,654.69 L162.05,657.3 L162,659.7 L162.01,661.92 L162.08,664.03 L162.21,666.01 L162.38,667.87 L162.59,669.59 L162.84,671.17 L163.11,672.61 L163.4,673.9 L163.7,675.03 L164,676 L164.3,676.78 L164.61,677.36 L164.93,677.76 L165.26,678 L165.62,678.11 L166.02,678.11 L166.44,678.03 L166.91,677.88 L167.43,677.7 L168,677.5 L168.63,677.25 L169.32,676.92 L170.06,676.51 L170.84,676.02 L171.66,675.47 L172.5,674.86 L173.36,674.2 L174.24,673.5 L175.12,672.76 L176,672 L176.93,671.19 L177.95,670.3 L179.02,669.35 L180.12,668.36 L181.22,667.32 L182.28,666.27 L183.26,665.19 L184.15,664.12 L184.91,663.05 L185.5,662 L185.95,660.99 L186.3,660.03 L186.56,659.1 L186.73,658.16 L186.81,657.2 L186.81,656.2 L186.72,655.13 L186.56,653.97 L186.31,652.7 L186,651.3 L185.52,649.71 L184.84,647.93 L183.99,645.99 L183.05,643.96 L182.06,641.89 L181.09,639.81 L180.19,637.79 L179.42,635.86 L178.84,634.08 L178.5,632.5 L178.36,631.06 L178.32,629.69 L178.4,628.38 L178.58,627.16 L178.88,626.02 L179.28,624.99 L179.79,624.06 L180.42,623.24 L181.16,622.55 L182,622 L182.99,621.58 L184.16,621.28 L185.47,621.11 L186.9,621.05 L188.42,621.09 L190.01,621.25 L191.64,621.5 L193.28,621.84 L194.91,622.28 L196.5,622.8 L198.08,623.48 L199.7,624.37 L201.35,625.41 L203.02,626.57 L204.71,627.79 L206.41,629.03 L208.11,630.24 L209.82,631.37 L211.52,632.37 L213.2,633.2 L214.84,633.9 L216.42,634.55 L217.97,635.15 L219.52,635.69 L221.08,636.16 L222.68,636.55 L224.35,636.87 L226.11,637.11 L227.99,637.25 L230,637.3 L232.19,637.24 L234.57,637.07 L237.09,636.8 L239.7,636.45 L242.36,636.02 L245.04,635.53 L247.68,634.99 L250.25,634.41 L252.71,633.81 L255,633.2 L257.2,632.57 L259.39,631.9 L261.55,631.19 L263.66,630.45 L265.69,629.66 L267.62,628.82 L269.44,627.94 L271.13,627.01 L272.65,626.03 L274,625 L275.13,623.89 L276.03,622.71 L276.76,621.45 L277.34,620.15 L277.81,618.8 L278.22,617.43 L278.61,616.05 L279.01,614.68 L279.46,613.32 L280,612" fill="none" stroke="#1b1b1b" stroke-width="1.0" stroke-linecap="round" stroke-linejoin="round"/>
<path d="M168.5,592 L169.65,591.43 L170.81,590.84 L171.97,590.24 L173.12,589.63 L174.28,589.03 L175.44,588.45 L176.59,587.89 L177.73,587.38 L178.87,586.91 L180,586.5 L181.12,586.16 L182.23,585.88 L183.34,585.64 L184.44,585.45 L185.53,585.28 L186.62,585.13 L187.72,584.99 L188.81,584.84 L189.9,584.68 L191,584.5" fill="none" stroke="#1b1b1b" stroke-width="1.6" stroke-linecap="round" stroke-linejoin="round"/>
<path d="M190.7,589 L190.7,608 L271.2,617.4 L273.3,567.2" fill="none" stroke="#1b1b1b" stroke-width="1.2"/>
<path d="M192,566.2 L193.55,565.88 L194.93,565.53 L196.22,565.16 L197.49,564.79 L198.8,564.43 L200.23,564.08 L201.84,563.78 L203.72,563.52 L205.91,563.32 L208.5,563.2 L211.6,563.16 L215.19,563.18 L219.16,563.26 L223.41,563.39 L227.81,563.55 L232.26,563.74 L236.63,563.95 L240.82,564.17 L244.72,564.39 L248.2,564.6 L251.3,564.81 L254.15,565.04 L256.8,565.29 L259.29,565.55 L261.66,565.83 L263.96,566.1 L266.23,566.38 L268.51,566.66 L270.86,566.93 L273.3,567.2" fill="none" stroke="#1b1b1b" stroke-width="1.4" stroke-linecap="round" stroke-linejoin="round"/>
<g transform="translate(210.6,599.6) rotate(-15)"><ellipse rx="4.4" ry="2.6" fill="#fff" stroke="#1b1b1b" stroke-width="1.1"/><ellipse rx="1.6" ry="1" fill="#fff" stroke="#1b1b1b" stroke-width="0.8"/></g>
<g transform="translate(250.3,600.1) rotate(-15)"><ellipse rx="4.4" ry="2.6" fill="#fff" stroke="#1b1b1b" stroke-width="1.1"/><ellipse rx="1.6" ry="1" fill="#fff" stroke="#1b1b1b" stroke-width="0.8"/></g>
<g transform="translate(211.5,570) rotate(-10)"><ellipse rx="3.6" ry="2.2" fill="#fff" stroke="#1b1b1b" stroke-width="1"/></g>
<g transform="translate(244.5,570.5) rotate(-10)"><ellipse rx="3.6" ry="2.2" fill="#fff" stroke="#1b1b1b" stroke-width="1"/></g>
<path d="M190.5,476.2 L273,480 Q284.5,487 289.2,500 Q291.5,514.5 285,515.2 L182,512.8 Q178.2,511.8 179.2,508 L188.5,478.8 Q189.2,476.2 190.5,476.2 Z" fill="none" stroke="#1b1b1b" stroke-width="5.4" stroke-linejoin="round" stroke-linecap="round"/><path d="M190.5,476.2 L273,480 Q284.5,487 289.2,500 Q291.5,514.5 285,515.2 L182,512.8 Q178.2,511.8 179.2,508 L188.5,478.8 Q189.2,476.2 190.5,476.2 Z" fill="none" stroke="#fff" stroke-width="3.2" stroke-linejoin="round" stroke-linecap="round"/>
<path d="M173.33,402.38 L174.44,409.18 L175.54,415.96 L176.65,422.74 L177.75,429.51 L178.86,436.28 L179.96,443.07 L181.07,449.87 L182.18,456.7 L183.28,463.55 L184.39,470.43 L185.53,477.57 L186.71,485.07 L187.91,492.8 L189.12,500.6 L190.32,508.32 L191.5,515.82 L192.62,522.94 L193.69,529.53 L194.67,535.45 L195.56,540.53 L196.31,544.72 L196.93,548.13 L197.45,550.91 L197.91,553.19 L198.34,555.11 L198.78,556.79 L199.25,558.34 L199.79,559.85 L200.41,561.43 L201.16,563.25 L202.06,565.23 L203.06,567.13 L204.14,568.92 L205.25,570.61 L206.39,572.23 L207.53,573.78 L208.66,575.29 L209.76,576.78 L210.82,578.26 L211.86,579.8 L212.75,580.68 L213.91,581.14 L215.15,581.13 L216.3,580.64 L217.18,579.75 L217.64,578.59 L217.63,577.35 L217.14,576.2 L216.04,574.59 L214.88,573.01 L213.73,571.48 L212.59,569.99 L211.49,568.52 L210.43,567.05 L209.43,565.56 L208.5,564.04 L207.64,562.46 L206.84,560.75 L206.14,559.09 L205.56,557.66 L205.09,556.37 L204.68,555.08 L204.29,553.64 L203.88,551.9 L203.42,549.72 L202.88,547 L202.23,543.62 L201.44,539.47 L200.52,534.42 L199.48,528.55 L198.35,521.99 L197.16,514.9 L195.91,507.43 L194.64,499.72 L193.35,491.93 L192.07,484.21 L190.82,476.7 L189.61,469.57 L188.43,462.69 L187.25,455.85 L186.08,449.03 L184.9,442.24 L183.73,435.47 L182.56,428.7 L181.39,421.94 L180.21,415.18 L179.04,408.4 L177.87,401.62Z" fill="#fff" stroke="#262626" stroke-width="1.2" stroke-linejoin="round" />
<path d="M288.05,404.7 L286.59,411.15 L285.13,417.56 L283.67,423.95 L282.22,430.34 L280.76,436.74 L279.3,443.17 L277.83,449.63 L276.37,456.16 L274.9,462.76 L273.42,469.45 L271.9,476.45 L270.3,483.86 L268.66,491.54 L267.01,499.32 L265.37,507.04 L263.78,514.56 L262.28,521.71 L260.89,528.34 L259.64,534.29 L258.57,539.41 L257.71,543.7 L257.07,547.26 L256.61,550.2 L256.26,552.61 L255.99,554.58 L255.75,556.22 L255.49,557.61 L255.18,558.9 L254.74,560.24 L254.14,561.77 L253.4,563.31 L252.58,564.69 L251.66,565.98 L250.66,567.22 L249.57,568.44 L248.42,569.65 L247.21,570.89 L245.97,572.18 L244.72,573.55 L243.54,574.96 L242.94,576.05 L242.81,577.29 L243.17,578.49 L243.96,579.46 L245.05,580.06 L246.29,580.19 L247.49,579.83 L248.46,579.04 L249.54,577.73 L250.64,576.51 L251.8,575.28 L253,574.01 L254.24,572.69 L255.48,571.27 L256.69,569.74 L257.85,568.06 L258.92,566.22 L259.86,564.23 L260.59,562.31 L261.14,560.56 L261.53,558.87 L261.83,557.19 L262.07,555.42 L262.32,553.42 L262.63,551.08 L263.06,548.25 L263.64,544.79 L264.43,540.59 L265.45,535.47 L266.64,529.51 L267.96,522.87 L269.4,515.71 L270.91,508.18 L272.46,500.45 L274.04,492.66 L275.6,484.97 L277.12,477.55 L278.58,470.55 L279.98,463.86 L281.38,457.25 L282.78,450.72 L284.17,444.25 L285.57,437.81 L286.96,431.4 L288.36,425 L289.75,418.59 L291.15,412.16 L292.55,405.7Z" fill="#fff" stroke="#262626" stroke-width="1.2" stroke-linejoin="round" />
<path d="M148.49,418.04 L195.91,592.08 L196.7,594.34 L197.86,596.32 L199.75,597.92 L202.38,598.5 L204.77,597.85 L206.67,596.56 L208.34,594.85 L217.52,584.14 L218.14,583.01 L218.29,581.73 L217.94,580.49 L217.14,579.48 L216.01,578.86 L214.73,578.71 L213.49,579.06 L212.48,579.86 L203.43,590.63 L202.43,591.68 L201.89,592.08 L202.07,592.07 L202.72,592.22 L202.88,592.31 L202.54,591.72 L202.06,590.37 L153.11,416.76Z" fill="#fff" stroke="#262626" stroke-width="1.2" stroke-linejoin="round" />
<path d="M320.92,423.56 L265.25,593.06 L264.88,593.96 L264.65,594.32 L264.72,594.27 L265.05,594.16 L265.15,594.15 L264.76,593.98 L263.96,593.42 L247.54,580.41 L246.39,579.82 L245.11,579.72 L243.88,580.12 L242.91,580.96 L242.32,582.11 L242.22,583.39 L242.62,584.62 L243.46,585.59 L260.02,598.49 L261.68,599.59 L263.54,600.34 L265.65,600.52 L267.77,599.87 L269.42,598.54 L270.53,596.88 L271.28,595.02 L325.48,425.04Z" fill="#fff" stroke="#262626" stroke-width="1.2" stroke-linejoin="round" />
<ellipse cx="150.8" cy="417.4" rx="2.4" ry="1.3" transform="rotate(-16 150.8 417.4)" fill="#fff" stroke="#333" stroke-width="1.1"/>
<ellipse cx="150.8" cy="417.4" rx="1.08" ry="0.6" transform="rotate(-16 150.8 417.4)" fill="#888"/>
<ellipse cx="175.6" cy="402" rx="2.3" ry="1.3" transform="rotate(-10 175.6 402)" fill="#fff" stroke="#333" stroke-width="1.1"/>
<ellipse cx="175.6" cy="402" rx="1.035" ry="0.6" transform="rotate(-10 175.6 402)" fill="#888"/>
<ellipse cx="290.3" cy="405.2" rx="2.3" ry="1.3" transform="rotate(12 290.3 405.2)" fill="#fff" stroke="#333" stroke-width="1.1"/>
<ellipse cx="290.3" cy="405.2" rx="1.035" ry="0.6" transform="rotate(12 290.3 405.2)" fill="#888"/>
<ellipse cx="323.2" cy="424.3" rx="2.4" ry="1.3" transform="rotate(18 323.2 424.3)" fill="#fff" stroke="#333" stroke-width="1.1"/>
<ellipse cx="323.2" cy="424.3" rx="1.08" ry="0.6" transform="rotate(18 323.2 424.3)" fill="#888"/>
<path d="M214.7,578.7 L247.2,580.3 L243,586 L218.9,585 Z" fill="#fff" stroke="#1b1b1b" stroke-width="1.1"/>
<path d="M215.5,579 L246.5,580.5" stroke="#333" stroke-width="1.8"/>
<circle cx="221.5" cy="583.9" r="1" fill="#222"/><circle cx="238.3" cy="585" r="1" fill="#222"/>
<circle cx="224.5" cy="533.3" r="1.6" fill="#fff" stroke="#aaa" stroke-width="0.8"/>
<path d="M224.5,537 L224.8,546" stroke="#111" stroke-width="2"/>
<circle cx="251.8" cy="533.3" r="1.6" fill="#fff" stroke="#aaa" stroke-width="0.8"/>
<path d="M251.8,537 L252.10000000000002,546" stroke="#111" stroke-width="2"/>
<path d="M223.5,548 L216.8,578" stroke="#444" stroke-width="0.9" stroke-dasharray="1.2 1.4" fill="none"/>
<path d="M226,548 L220,578" stroke="#444" stroke-width="0.9" stroke-dasharray="1.2 1.4" fill="none"/>
<path d="M250.8,548 L245.5,578" stroke="#444" stroke-width="0.9" stroke-dasharray="1.2 1.4" fill="none"/>
<path d="M253.2,548 L249,578" stroke="#444" stroke-width="0.9" stroke-dasharray="1.2 1.4" fill="none"/>
<path d="M216,585 L213.5,606" stroke="#444" stroke-width="0.9" stroke-dasharray="1.2 1.4" fill="none"/>
<path d="M219.5,586 L221,604" stroke="#444" stroke-width="0.9" stroke-dasharray="1.2 1.4" fill="none"/>
<path d="M245,586 L246,604" stroke="#444" stroke-width="0.9" stroke-dasharray="1.2 1.4" fill="none"/>
<path d="M226.5,535.5 L297.4,535.5" stroke="#444" stroke-width="1.1" stroke-dasharray="1.2 1.4" fill="none"/>
<path d="M249.4,527.3 L253.5,516.3 L279.6,509.4" fill="none" stroke="#a0a0a0" stroke-width="2.2" stroke-linejoin="round" stroke-linecap="round"/>
<path d="M249.4,527.3 L253.5,516.3 L279.6,509.4" fill="none" stroke="#e4e4e4" stroke-width="0.6"/><path d="M533.42,487.64 L532.3,495.86 L531.19,504.09 L530.08,512.33 L528.97,520.57 L527.86,528.8 L526.74,537.03 L525.62,545.23 L524.48,553.41 L523.34,561.55 L522.18,569.66 L521,577.72 L519.81,585.74 L518.6,593.73 L517.38,601.7 L516.16,609.65 L514.93,617.59 L513.7,625.52 L512.47,633.46 L511.25,641.41 L510.03,649.38 L510.06,650.19 L510.4,650.94 L511.01,651.49 L511.78,651.77 L512.59,651.74 L513.34,651.4 L513.89,650.79 L514.17,650.02 L515.44,642.07 L516.72,634.13 L518,626.2 L519.27,618.27 L520.55,610.34 L521.83,602.39 L523.09,594.43 L524.35,586.43 L525.59,578.41 L526.82,570.34 L528.03,562.23 L529.23,554.09 L530.41,545.91 L531.59,537.7 L532.76,529.48 L533.92,521.25 L535.08,513.02 L536.24,504.79 L537.4,496.56 L538.58,488.36 L538.52,487.35 L538.07,486.43 L537.32,485.76 L536.36,485.42 L535.35,485.48 L534.43,485.93 L533.76,486.68Z" fill="#fff" stroke="#262626" stroke-width="1.4" stroke-linejoin="round" />
<path d="M601.7,500 L601.72,507.01 L601.73,514.05 L601.75,521.1 L601.76,528.15 L601.78,535.2 L601.79,542.23 L601.81,549.24 L601.82,556.2 L601.84,563.13 L601.85,570 L601.87,576.81 L601.88,583.56 L601.9,590.28 L601.91,596.95 L601.93,603.6 L601.94,610.23 L601.96,616.86 L601.97,623.49 L601.99,630.13 L602,636.8 L602.16,637.6 L602.62,638.28 L603.3,638.74 L604.1,638.9 L604.9,638.74 L605.58,638.28 L606.04,637.6 L606.2,636.8 L606.21,630.13 L606.23,623.49 L606.24,616.86 L606.26,610.23 L606.27,603.6 L606.29,596.95 L606.3,590.28 L606.32,583.56 L606.33,576.81 L606.35,570 L606.36,563.13 L606.38,556.2 L606.39,549.24 L606.41,542.23 L606.42,535.2 L606.44,528.15 L606.45,521.1 L606.47,514.05 L606.48,507.01 L606.5,500 L606.32,499.08 L605.8,498.3 L605.02,497.78 L604.1,497.6 L603.18,497.78 L602.4,498.3 L601.88,499.08Z" fill="#fff" stroke="#262626" stroke-width="1.4" stroke-linejoin="round" />
<path d="M526,587.8 L603,580.6 Q606.5,580.2 609,582 L640.5,600.5 Q644.5,603.5 640,604.8 Q600,613.5 562,616.8 Q559.2,617 557.2,615.2 L526,592.5 Q523.2,589.5 526,587.8 Z" fill="none" stroke="#1b1b1b" stroke-width="5.0" stroke-linejoin="round"/>
<path d="M526,587.8 L603,580.6 Q606.5,580.2 609,582 L640.5,600.5 Q644.5,603.5 640,604.8 Q600,613.5 562,616.8 Q559.2,617 557.2,615.2 L526,592.5 Q523.2,589.5 526,587.8 Z" fill="none" stroke="#fff" stroke-width="2.2" stroke-linejoin="round"/>
<path d="M564.91,499.77 L564.07,509.8 L563.23,519.89 L562.38,530 L561.54,540.12 L560.69,550.22 L559.85,560.29 L559.01,570.31 L558.19,580.24 L557.37,590.08 L556.57,599.79 L555.78,609.37 L555.01,618.83 L554.24,628.19 L553.49,637.48 L552.74,646.7 L551.99,655.89 L551.25,665.06 L550.51,674.25 L549.76,683.46 L549.01,692.72 L549.1,693.57 L549.52,694.32 L550.19,694.86 L551.02,695.09 L551.87,695 L552.62,694.58 L553.16,693.91 L553.39,693.08 L554.19,683.83 L554.99,674.62 L555.78,665.44 L556.57,656.27 L557.36,647.09 L558.16,637.87 L558.96,628.59 L559.77,619.24 L560.59,609.78 L561.43,600.21 L562.28,590.5 L563.15,580.67 L564.03,570.74 L564.92,560.73 L565.81,550.66 L566.71,540.56 L567.61,530.45 L568.51,520.34 L569.4,510.26 L570.29,500.23 L570.17,499.18 L569.67,498.26 L568.84,497.6 L567.83,497.31 L566.78,497.43 L565.86,497.93 L565.2,498.76Z" fill="#fff" stroke="#262626" stroke-width="1.4" stroke-linejoin="round" />
<path d="M632.91,500.27 L633.89,509.31 L634.87,518.4 L635.84,527.53 L636.82,536.68 L637.8,545.8 L638.77,554.88 L639.75,563.89 L640.73,572.81 L641.7,581.61 L642.68,590.26 L643.65,598.74 L644.63,607.08 L645.6,615.29 L646.57,623.41 L647.55,631.45 L648.52,639.46 L649.49,647.44 L650.47,655.43 L651.44,663.46 L652.41,671.54 L652.67,672.32 L653.2,672.95 L653.93,673.32 L654.74,673.39 L655.52,673.13 L656.15,672.6 L656.52,671.87 L656.59,671.06 L655.66,662.96 L654.73,654.93 L653.81,646.93 L652.88,638.94 L651.95,630.93 L651.03,622.88 L650.1,614.77 L649.17,606.56 L648.25,598.22 L647.32,589.74 L646.4,581.1 L645.47,572.3 L644.55,563.39 L643.63,554.37 L642.7,545.29 L641.78,536.16 L640.86,527.01 L639.93,517.88 L639.01,508.77 L638.09,499.73 L637.78,498.76 L637.14,497.98 L636.24,497.51 L635.23,497.41 L634.26,497.72 L633.48,498.36 L633.01,499.26Z" fill="#fff" stroke="#262626" stroke-width="1.4" stroke-linejoin="round" />
<path d="M511.5,408.8 L511.78,407.85 L512.09,407.1 L512.43,406.5 L512.79,406.04 L513.19,405.68 L513.61,405.37 L514.07,405.09 L514.55,404.81 L515.06,404.49 L515.6,404.1 L516.13,403.66 L516.64,403.22 L517.15,402.79 L517.68,402.36 L518.25,401.94 L518.89,401.52 L519.62,401.12 L520.47,400.73 L521.45,400.36 L522.6,400 L523.92,399.65 L525.4,399.31 L527.01,398.97 L528.74,398.64 L530.56,398.33 L532.45,398.04 L534.4,397.76 L536.36,397.51 L538.34,397.29 L540.3,397.1 L542.28,396.94 L544.34,396.8 L546.44,396.68 L548.59,396.58 L550.76,396.51 L552.94,396.46 L555.12,396.44 L557.28,396.44 L559.41,396.46 L561.5,396.5 L563.58,396.57 L565.69,396.66 L567.81,396.78 L569.93,396.92 L572.02,397.09 L574.07,397.27 L576.06,397.48 L577.97,397.7 L579.79,397.94 L581.5,398.2 L583.09,398.47 L584.59,398.76 L586,399.07 L587.34,399.4 L588.61,399.74 L589.83,400.11 L591.01,400.5 L592.16,400.91 L593.28,401.34 L594.4,401.8 L595.5,402.29 L596.58,402.8 L597.63,403.34 L598.64,403.9 L599.61,404.48 L600.55,405.08 L601.44,405.7 L602.28,406.32 L603.07,406.96 L603.8,407.6 L604.47,408.25 L605.09,408.9 L605.65,409.56 L606.16,410.24 L606.62,410.93 L607.05,411.63 L607.45,412.36 L607.82,413.11 L608.17,413.89 L608.5,414.7 L608.81,415.53 L609.1,416.38 L609.37,417.24 L609.6,418.13 L609.81,419.04 L609.98,419.98 L610.12,420.95 L610.22,421.96 L610.28,423.01 L610.3,424.1 L610.28,425.25 L610.22,426.47 L610.12,427.75 L609.98,429.06 L609.81,430.4 L609.6,431.75 L609.37,433.1 L609.1,434.43 L608.81,435.74 L608.5,437 L608.14,438.24 L607.73,439.49 L607.27,440.73 L606.77,441.97 L606.26,443.19 L605.73,444.38 L605.21,445.55 L604.71,446.68 L604.23,447.77 L603.8,448.8 L603.39,449.77 L602.98,450.69 L602.58,451.55 L602.19,452.38 L601.82,453.18 L601.46,453.96 L601.13,454.73 L600.82,455.5 L600.54,456.29 L600.3,457.1 L600.08,457.94 L599.89,458.79 L599.72,459.66 L599.57,460.53 L599.44,461.39 L599.35,462.24 L599.29,463.06 L599.26,463.85 L599.26,464.6 L599.3,465.3 L599.38,465.96 L599.51,466.59 L599.67,467.2 L599.87,467.78 L600.09,468.33 L600.34,468.84 L600.61,469.32 L600.9,469.76 L601.2,470.15 L601.5,470.5 L602.04,470.76 L602.96,470.9 L604.1,470.96 L605.3,470.97 L606.42,470.96 L607.31,470.97 L607.8,471.03 L607.75,471.16 L607,471.41 L605.4,471.8 L602.79,472.38 L599.24,473.14 L594.95,474.02 L590.09,475 L584.87,476.01 L579.48,477.01 L574.11,477.95 L568.94,478.8 L564.17,479.5 L560,480 L556.21,480.35 L552.48,480.61 L548.85,480.79 L545.36,480.88 L542.04,480.88 L538.91,480.8 L536.02,480.63 L533.4,480.37 L531.08,480.03 L529.1,479.6 L527.54,479.04 L526.43,478.31 L525.68,477.46 L525.21,476.51 L524.94,475.5 L524.8,474.45 L524.71,473.39 L524.58,472.36 L524.34,471.39 L523.9,470.5 L523.33,469.72 L522.75,469.02 L522.15,468.39 L521.55,467.77 L520.94,467.16 L520.32,466.5 L519.71,465.78 L519.1,464.96 L518.5,464.01 L517.9,462.9 L517.29,461.64 L516.66,460.26 L516.02,458.78 L515.37,457.2 L514.74,455.55 L514.12,453.83 L513.54,452.05 L513,450.23 L512.52,448.37 L512.1,446.5 L511.74,444.55 L511.44,442.49 L511.17,440.34 L510.95,438.14 L510.76,435.91 L510.61,433.67 L510.49,431.47 L510.4,429.32 L510.34,427.25 L510.3,425.3 L510.29,423.41 L510.3,421.51 L510.35,419.63 L510.42,417.8 L510.53,416.02 L510.67,414.32 L510.83,412.73 L511.03,411.27 L511.25,409.95Z" fill="#fff" stroke="none"/>
<path d="M511.5,408.8 L511.9,408.33 L512.27,407.85 L512.64,407.37 L513,406.89 L513.37,406.41 L513.75,405.94 L514.16,405.47 L514.59,405 L515.07,404.55 L515.6,404.1 L516.13,403.66 L516.64,403.22 L517.15,402.79 L517.68,402.36 L518.25,401.94 L518.89,401.52 L519.62,401.12 L520.47,400.73 L521.45,400.36 L522.6,400 L523.92,399.65 L525.4,399.31 L527.01,398.97 L528.74,398.64 L530.56,398.33 L532.45,398.04 L534.4,397.76 L536.36,397.51 L538.34,397.29 L540.3,397.1 L542.28,396.94 L544.34,396.8 L546.44,396.68 L548.59,396.58 L550.76,396.51 L552.94,396.46 L555.12,396.44 L557.28,396.44 L559.41,396.46 L561.5,396.5 L563.58,396.57 L565.69,396.66 L567.81,396.78 L569.93,396.92 L572.02,397.09 L574.07,397.27 L576.06,397.48 L577.97,397.7 L579.79,397.94 L581.5,398.2 L583.09,398.47 L584.59,398.76 L586,399.07 L587.34,399.4 L588.61,399.74 L589.83,400.11 L591.01,400.5 L592.16,400.91 L593.28,401.34 L594.4,401.8 L595.5,402.29 L596.58,402.8 L597.63,403.34 L598.64,403.9 L599.61,404.48 L600.55,405.08 L601.44,405.7 L602.28,406.32 L603.07,406.96 L603.8,407.6 L604.47,408.25 L605.09,408.9 L605.65,409.56 L606.16,410.24 L606.62,410.93 L607.05,411.63 L607.45,412.36 L607.82,413.11 L608.17,413.89 L608.5,414.7 L608.81,415.53 L609.1,416.38 L609.37,417.24 L609.6,418.13 L609.81,419.04 L609.98,419.98 L610.12,420.95 L610.22,421.96 L610.28,423.01 L610.3,424.1 L610.28,425.25 L610.22,426.47 L610.12,427.75 L609.98,429.06 L609.81,430.4 L609.6,431.75 L609.37,433.1 L609.1,434.43 L608.81,435.74 L608.5,437 L608.14,438.24 L607.73,439.49 L607.27,440.73 L606.77,441.97 L606.26,443.19 L605.73,444.38 L605.21,445.55 L604.71,446.68 L604.23,447.77 L603.8,448.8 L603.39,449.77 L602.98,450.69 L602.58,451.55 L602.19,452.38 L601.82,453.18 L601.46,453.96 L601.13,454.73 L600.82,455.5 L600.54,456.29 L600.3,457.1 L600.08,457.94 L599.89,458.79 L599.72,459.66 L599.57,460.53 L599.44,461.39 L599.35,462.24 L599.29,463.06 L599.26,463.85 L599.26,464.6 L599.3,465.3 L599.38,465.96 L599.51,466.59 L599.67,467.2 L599.87,467.78 L600.09,468.33 L600.34,468.84 L600.61,469.32 L600.9,469.76 L601.2,470.15 L601.5,470.5 L601.82,470.79 L602.17,471.01 L602.55,471.18 L602.94,471.3 L603.34,471.39 L603.76,471.47 L604.18,471.53 L604.59,471.6 L605,471.69 L605.4,471.8" fill="none" stroke="#1b1b1b" stroke-width="2.0" stroke-linecap="round" stroke-linejoin="round"/>
<path d="M511.5,408.8 L511.37,410.43 L511.21,412.02 L511.05,413.6 L510.88,415.17 L510.71,416.76 L510.56,418.36 L510.44,420 L510.35,421.7 L510.3,423.46 L510.3,425.3 L510.34,427.25 L510.4,429.32 L510.49,431.47 L510.61,433.67 L510.76,435.91 L510.95,438.14 L511.17,440.34 L511.44,442.49 L511.74,444.55 L512.1,446.5 L512.52,448.37 L513,450.23 L513.54,452.05 L514.12,453.83 L514.74,455.55 L515.37,457.2 L516.02,458.78 L516.66,460.26 L517.29,461.64 L517.9,462.9 L518.5,464.01 L519.1,464.96 L519.71,465.78 L520.32,466.5 L520.94,467.16 L521.55,467.77 L522.15,468.39 L522.75,469.02 L523.33,469.72 L523.9,470.5 L524.45,471.35 L524.99,472.22 L525.52,473.12 L526.04,474.03 L526.55,474.96 L527.06,475.89 L527.57,476.82 L528.07,477.76 L528.58,478.68 L529.1,479.6" fill="none" stroke="#1b1b1b" stroke-width="2.0" stroke-linecap="round" stroke-linejoin="round"/>
<path d="M513.8,411.2 L513.72,412.58 L513.62,413.93 L513.51,415.24 L513.39,416.56 L513.27,417.88 L513.18,419.24 L513.12,420.64 L513.09,422.1 L513.11,423.65 L513.2,425.3 L513.33,427.06 L513.5,428.9 L513.69,430.83 L513.92,432.82 L514.19,434.86 L514.5,436.93 L514.85,439.03 L515.25,441.13 L515.7,443.22 L516.2,445.3 L516.78,447.41 L517.44,449.62 L518.18,451.87 L518.96,454.15 L519.78,456.42 L520.62,458.65 L521.46,460.8 L522.28,462.85 L523.06,464.76 L523.8,466.5 L524.49,468.05 L525.17,469.45 L525.83,470.71 L526.48,471.86 L527.12,472.94 L527.75,473.98 L528.38,474.99 L529.02,476.01 L529.65,477.07 L530.3,478.2" fill="none" stroke="#1b1b1b" stroke-width="1.5" stroke-linecap="round" stroke-linejoin="round"/>
<path d="M513.8,411.8 L515.85,411.68 L517.87,411.55 L519.89,411.42 L521.9,411.29 L523.92,411.16 L525.95,411.04 L528.01,410.92 L530.09,410.8 L532.22,410.7 L534.4,410.6 L536.63,410.52 L538.91,410.47 L541.23,410.43 L543.59,410.4 L545.96,410.38 L548.35,410.34 L550.75,410.29 L553.15,410.23 L555.53,410.13 L557.9,410 L560.28,409.83 L562.71,409.62 L565.16,409.39 L567.62,409.14 L570.07,408.87 L572.49,408.6 L574.86,408.33 L577.16,408.06 L579.38,407.82 L581.5,407.6 L583.5,407.4 L585.4,407.22 L587.22,407.04 L588.97,406.87 L590.67,406.71 L592.35,406.55 L594.01,406.39 L595.68,406.23 L597.37,406.07 L599.1,405.9" fill="none" stroke="#1b1b1b" stroke-width="1.8" stroke-linecap="round" stroke-linejoin="round"/>
<path d="M516.2,430 L518.61,429.88 L521.03,429.76 L523.45,429.64 L525.87,429.52 L528.29,429.4 L530.7,429.28 L533.11,429.16 L535.52,429.04 L537.91,428.92 L540.3,428.8 L542.67,428.68 L545.04,428.58 L547.39,428.47 L549.74,428.37 L552.08,428.27 L554.42,428.16 L556.76,428.04 L559.1,427.91 L561.45,427.76 L563.8,427.6 L566.16,427.41 L568.53,427.2 L570.91,426.98 L573.3,426.74 L575.67,426.49 L578.05,426.24 L580.41,425.99 L582.76,425.75 L585.09,425.51 L587.4,425.3 L589.68,425.1 L591.94,424.91 L594.19,424.72 L596.41,424.54 L598.63,424.37 L600.84,424.2 L603.05,424.02 L605.26,423.85 L607.48,423.68 L609.7,423.5" fill="none" stroke="#1b1b1b" stroke-width="1.8" stroke-linecap="round" stroke-linejoin="round"/>
<path d="M518.5,448.8 L520.66,448.68 L522.79,448.58 L524.91,448.47 L527.02,448.37 L529.14,448.27 L531.28,448.16 L533.46,448.04 L535.68,447.91 L537.95,447.76 L540.3,447.6 L542.73,447.42 L545.26,447.21 L547.84,446.99 L550.48,446.76 L553.14,446.53 L555.82,446.28 L558.48,446.03 L561.11,445.78 L563.69,445.54 L566.2,445.3 L568.68,445.06 L571.17,444.81 L573.65,444.55 L576.11,444.28 L578.54,444.03 L580.92,443.77 L583.24,443.53 L585.49,443.3 L587.64,443.09 L589.7,442.9 L591.63,442.74 L593.45,442.6 L595.16,442.47 L596.8,442.37 L598.39,442.27 L599.94,442.18 L601.47,442.09 L603.01,442 L604.58,441.9 L606.2,441.8" fill="none" stroke="#1b1b1b" stroke-width="1.8" stroke-linecap="round" stroke-linejoin="round"/>
<path d="M520.3,401.2 L520.97,403 L521.68,404.76 L522.4,406.49 L523.13,408.23 L523.85,409.97 L524.55,411.74 L525.2,413.55 L525.81,415.42 L526.34,417.37 L526.8,419.4 L527.17,421.53 L527.48,423.76 L527.74,426.06 L527.94,428.41 L528.09,430.81 L528.22,433.24 L528.31,435.68 L528.38,438.11 L528.44,440.52 L528.5,442.9 L528.53,445.26 L528.53,447.61 L528.49,449.97 L528.43,452.33 L528.34,454.69 L528.25,457.06 L528.15,459.42 L528.06,461.78 L527.97,464.14 L527.9,466.5" fill="none" stroke="#1b1b1b" stroke-width="1.8" stroke-linecap="round" stroke-linejoin="round"/>
<path d="M533.2,398.8 L533.81,400.85 L534.44,402.87 L535.08,404.89 L535.73,406.9 L536.37,408.92 L536.99,410.95 L537.59,413.01 L538.14,415.09 L538.65,417.22 L539.1,419.4 L539.49,421.65 L539.82,423.99 L540.12,426.38 L540.37,428.81 L540.6,431.26 L540.8,433.69 L540.99,436.1 L541.16,438.45 L541.33,440.72 L541.5,442.9 L541.66,444.98 L541.8,446.97 L541.93,448.91 L542.03,450.79 L542.13,452.64 L542.22,454.46 L542.31,456.27 L542.4,458.09 L542.5,459.93 L542.6,461.8" fill="none" stroke="#1b1b1b" stroke-width="1.8" stroke-linecap="round" stroke-linejoin="round"/>
<path d="M549.7,397.6 L550.18,399.78 L550.68,401.97 L551.18,404.16 L551.69,406.35 L552.19,408.54 L552.69,410.72 L553.16,412.9 L553.61,415.08 L554.02,417.24 L554.4,419.4 L554.74,421.56 L555.05,423.72 L555.33,425.88 L555.59,428.04 L555.82,430.19 L556.04,432.32 L556.25,434.44 L556.44,436.52 L556.62,438.58 L556.8,440.6 L556.96,442.58 L557.1,444.51 L557.23,446.42 L557.33,448.29 L557.43,450.15 L557.52,452 L557.61,453.84 L557.7,455.68 L557.8,457.53 L557.9,459.4" fill="none" stroke="#1b1b1b" stroke-width="1.8" stroke-linecap="round" stroke-linejoin="round"/>
<path d="M566.8,397.3 L567.22,399.52 L567.65,401.75 L568.09,404 L568.53,406.24 L568.96,408.48 L569.39,410.71 L569.8,412.92 L570.2,415.11 L570.56,417.28 L570.9,419.4 L571.2,421.49 L571.47,423.53 L571.72,425.55 L571.94,427.55 L572.16,429.53 L572.36,431.5 L572.56,433.47 L572.76,435.43 L572.97,437.41 L573.2,439.4 L573.44,441.4 L573.67,443.4 L573.91,445.4 L574.15,447.4 L574.39,449.4 L574.64,451.4 L574.88,453.4 L575.12,455.4 L575.36,457.4 L575.6,459.4" fill="none" stroke="#1b1b1b" stroke-width="1.8" stroke-linecap="round" stroke-linejoin="round"/>
<path d="M587.4,400 L587.69,401.94 L588,403.87 L588.3,405.8 L588.61,407.73 L588.92,409.66 L589.22,411.6 L589.51,413.54 L589.79,415.48 L590.05,417.44 L590.3,419.4 L590.52,421.37 L590.73,423.34 L590.92,425.32 L591.1,427.3 L591.27,429.29 L591.44,431.28 L591.6,433.29 L591.76,435.31 L591.93,437.35 L592.1,439.4 L592.27,441.47 L592.45,443.56 L592.62,445.67 L592.79,447.79 L592.96,449.92 L593.12,452.06 L593.29,454.2 L593.46,456.34 L593.63,458.47 L593.8,460.6" fill="none" stroke="#1b1b1b" stroke-width="1.8" stroke-linecap="round" stroke-linejoin="round"/>
<path d="M525.8,467.9 L527.78,467.24 L529.73,466.55 L531.65,465.84 L533.56,465.13 L535.49,464.42 L537.44,463.74 L539.44,463.1 L541.51,462.5 L543.66,461.96 L545.9,461.5 L548.26,461.1 L550.71,460.73 L553.25,460.41 L555.85,460.13 L558.49,459.89 L561.17,459.71 L563.85,459.57 L566.53,459.49 L569.19,459.47 L571.8,459.5 L574.49,459.62 L577.34,459.84 L580.28,460.14 L583.24,460.51 L586.16,460.91 L588.96,461.33 L591.57,461.75 L593.93,462.14 L595.96,462.5 L597.6,462.8 L598.8,463.05 L599.6,463.27 L600.09,463.47 L600.31,463.66 L600.35,463.84 L600.27,464.01 L600.15,464.17 L600.05,464.34 L600.04,464.52 L600.2,464.7" fill="none" stroke="#1b1b1b" stroke-width="1.5" stroke-linecap="round" stroke-linejoin="round"/>
<path d="M529.1,479.6 L529.68,479.16 L530.42,478.76 L531.31,478.39 L532.31,478.06 L533.41,477.78 L534.57,477.53 L535.78,477.33 L537,477.17 L538.22,477.06 L539.4,477 L540.55,477.02 L541.71,477.15 L542.87,477.36 L544.06,477.62 L545.27,477.91 L546.54,478.2 L547.86,478.47 L549.26,478.69 L550.73,478.84 L552.3,478.9 L553.95,478.88 L555.68,478.8 L557.47,478.69 L559.32,478.54 L561.24,478.35 L563.23,478.13 L565.28,477.88 L567.39,477.61 L569.57,477.31 L571.8,477 L574.12,476.65 L576.56,476.26 L579.07,475.82 L581.66,475.36 L584.3,474.87 L586.97,474.38 L589.65,473.89 L592.33,473.4 L594.99,472.94 L597.6,472.5 L600.23,472.07 L602.94,471.63 L605.69,471.19 L608.45,470.74 L611.19,470.31 L613.88,469.9 L616.49,469.52 L618.98,469.17 L621.33,468.86 L623.5,468.6 L625.51,468.38 L627.39,468.18 L629.16,468.01 L630.82,467.87 L632.38,467.76 L633.85,467.7 L635.24,467.67 L636.56,467.69 L637.81,467.77 L639,467.9 L640.11,468.08 L641.13,468.3 L642.05,468.57 L642.9,468.88 L643.67,469.24 L644.38,469.64 L645.04,470.1 L645.66,470.61 L646.24,471.18 L646.8,471.8 L647.33,472.5 L647.82,473.29 L648.26,474.15 L648.66,475.07 L649.01,476.03 L649.31,477.02 L649.56,478.01 L649.76,479 L649.91,479.97 L650,480.9 L650.04,481.81 L650.04,482.73 L649.99,483.65 L649.89,484.56 L649.74,485.48 L649.53,486.39 L649.26,487.29 L648.94,488.18 L648.55,489.05 L648.1,489.9 L647.57,490.74 L646.96,491.58 L646.27,492.41 L645.52,493.23 L644.72,494.04 L643.88,494.82 L643.01,495.59 L642.11,496.33 L641.21,497.03 L640.3,497.7 L639.41,498.33 L638.55,498.94 L637.68,499.51 L636.8,500.06 L635.88,500.59 L634.9,501.09 L633.84,501.57 L632.68,502.03 L631.41,502.47 L630,502.9 L628.43,503.31 L626.7,503.7 L624.85,504.07 L622.9,504.42 L620.87,504.74 L618.8,505.05 L616.71,505.34 L614.63,505.61 L612.58,505.87 L610.6,506.1 L608.66,506.32 L606.72,506.53 L604.78,506.73 L602.84,506.91 L600.9,507.07 L598.96,507.2 L597.02,507.31 L595.08,507.38 L593.14,507.41 L591.2,507.4 L589.26,507.36 L587.32,507.3 L585.38,507.21 L583.44,507.09 L581.51,506.94 L579.57,506.74 L577.63,506.51 L575.69,506.23 L573.74,505.89 L571.8,505.5 L569.84,505.04 L567.84,504.52 L565.83,503.93 L563.82,503.29 L561.81,502.62 L559.82,501.91 L557.86,501.19 L555.95,500.46 L554.09,499.72 L552.3,499 L550.55,498.26 L548.81,497.48 L547.09,496.67 L545.41,495.84 L543.77,495.01 L542.2,494.19 L540.71,493.38 L539.3,492.61 L537.99,491.88 L536.8,491.2 L535.72,490.59 L534.74,490.03 L533.85,489.52 L533.04,489.03 L532.32,488.57 L531.67,488.11 L531.09,487.65 L530.57,487.17 L530.11,486.65 L529.7,486.1 L529.33,485.49 L528.99,484.83 L528.7,484.13 L528.47,483.41 L528.31,482.69 L528.24,481.99 L528.27,481.31 L528.42,480.67 L528.69,480.1Z" fill="#fff" stroke="#1b1b1b" stroke-width="2.0" stroke-linecap="round" stroke-linejoin="round"/>
<path d="M539.4,477.6 L540.98,478.57 L542.58,479.55 L544.21,480.53 L545.83,481.51 L547.45,482.49 L549.05,483.46 L550.61,484.43 L552.14,485.4 L553.6,486.35 L555,487.3 L556.36,488.23 L557.72,489.16 L559.06,490.07 L560.36,490.98 L561.61,491.89 L562.8,492.79 L563.91,493.69 L564.92,494.59 L565.82,495.49 L566.6,496.4 L567.22,497.31 L567.7,498.22 L568.04,499.13 L568.29,500.04 L568.46,500.95 L568.59,501.86 L568.7,502.77 L568.82,503.68 L568.98,504.59 L569.2,505.5" fill="none" stroke="#1b1b1b" stroke-width="1.7" stroke-linecap="round" stroke-linejoin="round"/>
<path d="M557.5,479.6 L559.62,480.23 L561.8,480.84 L564.03,481.43 L566.27,482.03 L568.49,482.63 L570.66,483.25 L572.75,483.88 L574.72,484.55 L576.55,485.25 L578.2,486 L579.69,486.79 L581.05,487.61 L582.3,488.45 L583.45,489.32 L584.49,490.22 L585.45,491.14 L586.33,492.09 L587.15,493.07 L587.9,494.07 L588.6,495.1 L589.21,496.16 L589.7,497.27 L590.09,498.42 L590.4,499.59 L590.65,500.79 L590.87,502 L591.07,503.21 L591.28,504.42 L591.51,505.62 L591.8,506.8" fill="none" stroke="#1b1b1b" stroke-width="1.7" stroke-linecap="round" stroke-linejoin="round"/>
<path d="M574.3,478.3 L576.69,479.07 L579.17,479.84 L581.7,480.61 L584.24,481.38 L586.76,482.14 L589.21,482.91 L591.56,483.68 L593.77,484.45 L595.79,485.23 L597.6,486 L599.2,486.76 L600.63,487.49 L601.91,488.21 L603.06,488.93 L604.09,489.65 L605.02,490.39 L605.86,491.17 L606.63,491.99 L607.33,492.86 L608,493.8 L608.58,494.81 L609.02,495.89 L609.35,497.02 L609.6,498.2 L609.79,499.41 L609.93,500.63 L610.07,501.87 L610.2,503.1 L610.38,504.31 L610.6,505.5" fill="none" stroke="#1b1b1b" stroke-width="1.7" stroke-linecap="round" stroke-linejoin="round"/>
<path d="M589.9,475.7 L592.28,476.34 L594.75,476.96 L597.26,477.57 L599.78,478.18 L602.28,478.79 L604.72,479.42 L607.07,480.07 L609.29,480.74 L611.34,481.45 L613.2,482.2 L614.87,482.99 L616.39,483.8 L617.78,484.63 L619.05,485.49 L620.21,486.38 L621.28,487.29 L622.25,488.22 L623.16,489.19 L624,490.18 L624.8,491.2 L625.5,492.26 L626.07,493.37 L626.54,494.51 L626.91,495.69 L627.23,496.88 L627.51,498.09 L627.77,499.3 L628.04,500.52 L628.34,501.72 L628.7,502.9" fill="none" stroke="#1b1b1b" stroke-width="1.7" stroke-linecap="round" stroke-linejoin="round"/>
<path d="M610.6,473.1 L612.58,473.53 L614.6,473.94 L616.67,474.32 L618.73,474.71 L620.79,475.1 L622.8,475.51 L624.75,475.96 L626.62,476.44 L628.38,476.99 L630,477.6 L631.51,478.3 L632.93,479.1 L634.28,479.96 L635.54,480.88 L636.73,481.81 L637.85,482.75 L638.89,483.67 L639.86,484.55 L640.76,485.37 L641.6,486.1 L642.34,486.75 L642.95,487.34 L643.47,487.88 L643.91,488.38 L644.29,488.86 L644.64,489.32 L644.97,489.78 L645.31,490.23 L645.68,490.71 L646.1,491.2" fill="none" stroke="#1b1b1b" stroke-width="1.7" stroke-linecap="round" stroke-linejoin="round"/>
<path d="M632.6,470.5 L633.79,471 L635.02,471.48 L636.28,471.94 L637.55,472.39 L638.8,472.86 L640.02,473.34 L641.19,473.85 L642.29,474.41 L643.3,475.02 L644.2,475.7 L644.98,476.45 L645.65,477.27 L646.23,478.14 L646.74,479.06 L647.2,480.01 L647.63,480.97 L648.04,481.95 L648.46,482.92 L648.91,483.87 L649.4,484.8" fill="none" stroke="#1b1b1b" stroke-width="1.7" stroke-linecap="round" stroke-linejoin="round"/>
<path d="M546,479.5 L546.51,479.38 L546.84,479.27 L547.07,479.17 L547.27,479.06 L547.52,478.95 L547.9,478.84 L548.49,478.72 L549.37,478.59 L550.61,478.45 L552.3,478.3 L554.51,478.13 L557.21,477.96 L560.31,477.77 L563.69,477.58 L567.27,477.38 L570.96,477.17 L574.64,476.96 L578.22,476.74 L581.61,476.52 L584.7,476.3 L587.55,476.08 L590.3,475.85 L592.95,475.63 L595.53,475.4 L598.06,475.17 L600.56,474.92 L603.04,474.67 L605.53,474.4 L608.04,474.11 L610.6,473.8 L613.18,473.47 L615.77,473.11 L618.35,472.73 L620.93,472.34 L623.51,471.94 L626.08,471.53 L628.66,471.11 L631.24,470.7 L633.82,470.3 L636.4,469.9" fill="none" stroke="#1b1b1b" stroke-width="1.6" stroke-linecap="round" stroke-linejoin="round"/>
<path d="M551,482.5 L551.67,482.4 L552.17,482.3 L552.57,482.21 L552.94,482.11 L553.36,482.02 L553.91,481.92 L554.65,481.82 L555.67,481.72 L557.02,481.61 L558.8,481.5 L561.04,481.4 L563.71,481.31 L566.72,481.23 L569.99,481.16 L573.47,481.07 L577.07,480.96 L580.71,480.83 L584.33,480.67 L587.85,480.46 L591.2,480.2 L594.49,479.87 L597.85,479.48 L601.26,479.04 L604.68,478.57 L608.08,478.07 L611.42,477.56 L614.67,477.06 L617.78,476.57 L620.74,476.11 L623.5,475.7 L626.04,475.33 L628.38,474.98 L630.56,474.64 L632.62,474.33 L634.58,474.02 L636.48,473.72 L638.36,473.42 L640.25,473.12 L642.18,472.81 L644.2,472.5" fill="none" stroke="#1b1b1b" stroke-width="1.6" stroke-linecap="round" stroke-linejoin="round"/>
<path d="M556,486.2 L556.54,486.12 L556.89,486.05 L557.12,485.98 L557.33,485.9 L557.59,485.83 L557.99,485.76 L558.62,485.68 L559.56,485.59 L560.89,485.5 L562.7,485.4 L565.06,485.3 L567.92,485.22 L571.18,485.15 L574.75,485.07 L578.54,484.98 L582.47,484.87 L586.43,484.74 L590.33,484.57 L594.08,484.36 L597.6,484.1 L601.01,483.77 L604.47,483.39 L607.95,482.95 L611.43,482.47 L614.85,481.98 L618.19,481.47 L621.41,480.96 L624.48,480.47 L627.35,480.02 L630,479.6 L632.39,479.22 L634.54,478.86 L636.48,478.52 L638.27,478.19 L639.94,477.88 L641.55,477.56 L643.12,477.25 L644.71,476.94 L646.35,476.62 L648.1,476.3" fill="none" stroke="#1b1b1b" stroke-width="1.6" stroke-linecap="round" stroke-linejoin="round"/>
<path d="M562,491.6 L562.34,491.56 L562.5,491.53 L562.55,491.51 L562.57,491.48 L562.65,491.46 L562.86,491.42 L563.28,491.39 L563.99,491.34 L565.07,491.28 L566.6,491.2 L568.62,491.12 L571.09,491.05 L573.92,490.98 L577.03,490.9 L580.36,490.81 L583.83,490.69 L587.37,490.55 L590.89,490.38 L594.32,490.16 L597.6,489.9 L600.84,489.57 L604.2,489.17 L607.63,488.73 L611.08,488.24 L614.53,487.73 L617.91,487.22 L621.19,486.71 L624.33,486.23 L627.28,485.79 L630,485.4 L632.47,485.06 L634.71,484.76 L636.78,484.48 L638.7,484.22 L640.51,483.98 L642.26,483.75 L643.99,483.52 L645.73,483.29 L647.52,483.05 L649.4,482.8" fill="none" stroke="#1b1b1b" stroke-width="1.6" stroke-linecap="round" stroke-linejoin="round"/>
<text transform="matrix(1.0220 0 0 1.0250 450.978 25.044)" font-size="22.8" style='font-family:"Liberation Sans",sans-serif' fill="#141414">5528302</text>
<text transform="matrix(1.0515 0 0 1.0143 322.700 58.246)" font-size="29.6" style='font-family:"Liberation Sans",sans-serif' fill="#141414">ASSEMBLY INSTRUCTION</text>
<text transform="matrix(0.8000 0 0 0.7624 327.100 82.879)" font-size="22.5" style='font-family:"Liberation Sans",sans-serif' fill="#141414">&lt;&lt;Before assembling, read all the instruction&gt;&gt;</text>
<text transform="matrix(1.0812 0 0 1.0231 745.778 117.900)" font-size="18.5" style='font-family:"Liberation Sans",sans-serif' fill="#141414">NO</text>
<text transform="matrix(1.0694 0 0 1.0182 835.796 118.045)" font-size="19.4" style='font-family:"Liberation Sans",sans-serif' fill="#141414">PARTS</text>
<text transform="matrix(0.9561 0 0 0.8054 963.744 115.678)" font-size="20.7" style='font-family:"Liberation Sans",sans-serif' fill="#141414">QTY</text>
<text transform="matrix(1.0320 0 0 1.0320 755.187 183.100)" font-size="17.9" style='font-family:"Liberation Sans",sans-serif' fill="#141414">A</text>
<text transform="matrix(1.0340 0 0 1.0340 754.550 270.400)" font-size="19.0" style='font-family:"Liberation Sans",sans-serif' fill="#141414">B</text>
<text transform="matrix(1.0148 0 0 1.0148 754.546 343.746)" font-size="19.0" style='font-family:"Liberation Sans",sans-serif' fill="#141414">C</text>
<text transform="matrix(1.0340 0 0 1.0340 754.583 414.000)" font-size="19.0" style='font-family:"Liberation Sans",sans-serif' fill="#141414">D</text>
<text transform="matrix(1.0189 0 0 1.0189 754.750 466.000)" font-size="18.8" style='font-family:"Liberation Sans",sans-serif' fill="#141414">E</text>
<text transform="matrix(1.0353 0 0 1.0353 754.588 502.400)" font-size="18.3" style='font-family:"Liberation Sans",sans-serif' fill="#141414">F</text>
<text transform="matrix(1.0196 0 0 1.0196 754.940 539.700)" font-size="18.1" style='font-family:"Liberation Sans",sans-serif' fill="#141414">G</text>
<text transform="matrix(1.0431 0 0 1.0431 754.939 576.800)" font-size="18.5" style='font-family:"Liberation Sans",sans-serif' fill="#141414">H</text>
<text transform="matrix(1.0462 0 0 1.0462 759.504 614.100)" font-size="18.9" style='font-family:"Liberation Sans",sans-serif' fill="#141414">I</text>
<text transform="matrix(1.0231 0 0 1.0231 757.180 650.700)" font-size="18.5" style='font-family:"Liberation Sans",sans-serif' fill="#141414">J</text>
<text transform="matrix(1.0538 0 0 1.0538 756.505 687.700)" font-size="19.0" style='font-family:"Liberation Sans",sans-serif' fill="#141414">K</text>
<text transform="matrix(1.0992 0 0 1.0118 966.626 182.300)" font-size="17.9" style='font-family:"Liberation Sans",sans-serif' fill="#141414">1PC</text>
<text transform="matrix(1.0388 0 0 1.0148 966.442 269.446)" font-size="19.0" style='font-family:"Liberation Sans",sans-serif' fill="#141414">1PC</text>
<text transform="matrix(1.0388 0 0 1.0148 966.442 344.246)" font-size="19.0" style='font-family:"Liberation Sans",sans-serif' fill="#141414">1PC</text>
<text transform="matrix(1.0314 0 0 1.0222 966.853 414.544)" font-size="19.2" style='font-family:"Liberation Sans",sans-serif' fill="#141414">1PC</text>
<text transform="matrix(1.0589 0 0 1.0074 960.541 468.548)" font-size="18.9" style='font-family:"Liberation Sans",sans-serif' fill="#141414">2PCS</text>
<text transform="matrix(1.0060 0 0 0.9965 961.097 502.851)" font-size="19.7" style='font-family:"Liberation Sans",sans-serif' fill="#141414">4PCS</text>
<text transform="matrix(1.0561 0 0 1.0148 967.816 537.046)" font-size="19.0" style='font-family:"Liberation Sans",sans-serif' fill="#141414">1PC</text>
<text transform="matrix(1.0872 0 0 1.0231 961.656 577.200)" font-size="18.5" style='font-family:"Liberation Sans",sans-serif' fill="#141414">4PCS</text>
<text transform="matrix(1.0561 0 0 1.0148 966.316 614.746)" font-size="19.0" style='font-family:"Liberation Sans",sans-serif' fill="#141414">1PC</text>
<text transform="matrix(1.0435 0 0 1.0074 966.535 650.348)" font-size="18.9" style='font-family:"Liberation Sans",sans-serif' fill="#141414">1PC</text>
<text transform="matrix(1.0667 0 0 1.0231 962.333 692.700)" font-size="18.5" style='font-family:"Liberation Sans",sans-serif' fill="#141414">2PCS</text>
<text transform="matrix(1.0683 0 0 1.0286 808.332 249.700)" font-size="12.5" style='font-family:"Liberation Sans",sans-serif' fill="#141414">FRONT</text>
<text transform="matrix(1.0602 0 0 1.0171 891.840 353.100)" font-size="12.4" style='font-family:"Liberation Sans",sans-serif' fill="#141414">FRONT</text>
<text transform="matrix(1.0747 0 0 1.0171 798.125 423.900)" font-size="12.4" style='font-family:"Liberation Sans",sans-serif' fill="#141414">FRONT</text>
<text transform="matrix(1.0478 0 0 1.0222 843.552 510.900)" font-size="12.8" style='font-family:"Liberation Sans",sans-serif' fill="#141414">M6*25mm</text>
<text transform="matrix(1.0795 0 0 1.0171 845.021 586.000)" font-size="12.4" style='font-family:"Liberation Sans",sans-serif' fill="#141414">M6*16mm</text>
<text transform="matrix(1.1533 0 0 1.0303 863.447 615.900)" font-size="11.8" style='font-family:"Liberation Sans",sans-serif' fill="#141414">M5</text>
<text transform="matrix(1.0769 0 0 1.0222 863.423 654.500)" font-size="12.8" style='font-family:"Liberation Sans",sans-serif' fill="#141414">M6</text>
<text transform="matrix(1.0941 0 0 1.0171 843.106 699.600)" font-size="12.4" style='font-family:"Liberation Sans",sans-serif' fill="#141414">M8*25mm</text>
<text transform="matrix(1.0571 0 0 1.0571 85.571 136.100)" font-size="25.7" style='font-family:"Liberation Sans",sans-serif' fill="#141414">1</text>
<text transform="matrix(1.0444 0 0 1.0444 436.528 136.100)" font-size="26.1" style='font-family:"Liberation Sans",sans-serif' fill="#141414">2</text>
<text transform="matrix(1.0301 0 0 1.0301 86.810 401.542)" font-size="26.1" style='font-family:"Liberation Sans",sans-serif' fill="#141414">3</text>
<text transform="matrix(1.0592 0 0 1.0592 436.354 401.800)" font-size="26.1" style='font-family:"Liberation Sans",sans-serif' fill="#141414">4</text>
<text transform="matrix(1.0759 0 0 1.0759 249.397 133.500)" font-size="10.8" style='font-family:"Liberation Sans",sans-serif' fill="#141414">G</text>
<text transform="matrix(1.0759 0 0 1.0759 254.631 144.500)" font-size="10.8" style='font-family:"Liberation Sans",sans-serif' fill="#141414">E</text>
<text transform="matrix(1.0545 0 0 1.0545 298.136 172.700)" font-size="12.1" style='font-family:"Liberation Sans",sans-serif' fill="#141414">K</text>
<text transform="matrix(1.0444 0 0 1.0444 300.547 205.700)" font-size="13.1" style='font-family:"Liberation Sans",sans-serif' fill="#141414">J</text>
<text transform="matrix(0.8268 0 0 1.0857 90.387 203.800)" font-size="18.5" style='font-family:"Liberation Serif",serif' fill="#141414">FRONT</text>
<text transform="matrix(1.0250 0 0 1.0250 158.072 250.600)" font-size="11.4" style='font-family:"Liberation Sans",sans-serif' fill="#141414">C</text>
<text transform="matrix(0.8066 0 0 1.0588 128.997 320.235)" font-size="18.8" style='font-family:"Liberation Serif",serif' fill="#141414">FRONT</text>
<text transform="matrix(1.0375 0 0 1.0375 203.850 315.300)" font-size="11.5" style='font-family:"Liberation Sans",sans-serif' fill="#141414">B</text>
<text transform="matrix(1.0270 0 0 1.0270 474.865 246.500)" font-size="13.2" style='font-family:"Liberation Sans",sans-serif' fill="#141414">D</text>
<text transform="matrix(1.0250 0 0 1.0250 618.934 214.700)" font-size="11.4" style='font-family:"Liberation Sans",sans-serif' fill="#141414">I</text>
<text transform="matrix(1.0444 0 0 1.0444 577.911 259.400)" font-size="13.1" style='font-family:"Liberation Sans",sans-serif' fill="#141414">F</text>
<text transform="matrix(0.7780 0 0 1.0846 480.211 289.729)" font-size="19.6" style='font-family:"Liberation Serif",serif' fill="#141414">FRONT</text>
<text transform="matrix(1.0171 0 0 1.0171 266.407 432.246)" font-size="24.7" style='font-family:"Liberation Sans",sans-serif' fill="#141414">3</text>
<text transform="matrix(1.0378 0 0 1.0378 253.136 508.000)" font-size="13.3" style='font-family:"Liberation Sans",sans-serif' fill="#141414">J</text>
<text transform="matrix(1.0250 0 0 1.0250 300.072 538.200)" font-size="11.4" style='font-family:"Liberation Sans",sans-serif' fill="#141414">H</text>
<text transform="matrix(1.0500 0 0 1.0500 199.731 666.000)" font-size="11.7" style='font-family:"Liberation Sans",sans-serif' fill="#141414">A</text>
</svg>
</body></html>
